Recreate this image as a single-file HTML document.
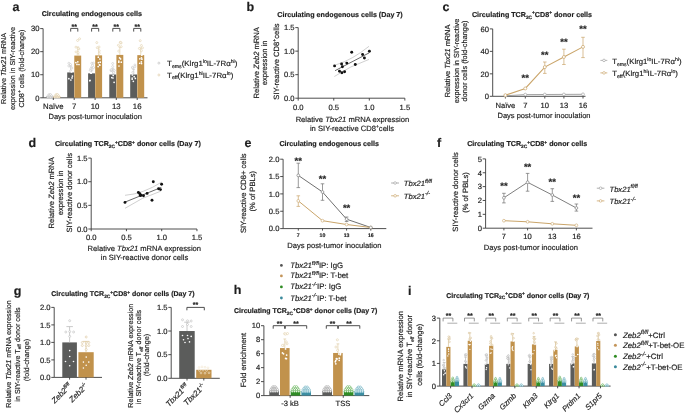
<!DOCTYPE html>
<html><head><meta charset="utf-8"><style>
html,body{margin:0;padding:0;background:#fff;}
svg{display:block;will-change:transform;}
text{font-family:"Liberation Sans", sans-serif;stroke:#1e1e1e;stroke-width:0.18px;text-rendering:geometricPrecision;}
</style></head><body>
<svg width="685" height="413" viewBox="0 0 685 413">
<rect width="685" height="413" fill="#fff"/>
<text x="12.40" y="11.00" font-size="12.5" text-anchor="start" font-weight="bold" fill="#1e1e1e">a</text>
<text x="91.80" y="16.40" font-size="7" text-anchor="middle" font-weight="bold" fill="#1e1e1e" textLength="100.3" lengthAdjust="spacingAndGlyphs">Circulating endogenous cells</text>
<line x1="43.10" y1="28.60" x2="43.10" y2="97.80" stroke="#3a3a3a" stroke-width="0.9"/>
<line x1="40.20" y1="97.80" x2="43.10" y2="97.80" stroke="#3a3a3a" stroke-width="0.9"/>
<text x="39.40" y="100.54" font-size="7.6" text-anchor="end" fill="#1e1e1e">0</text>
<line x1="40.20" y1="74.73" x2="43.10" y2="74.73" stroke="#3a3a3a" stroke-width="0.9"/>
<text x="39.40" y="77.47" font-size="7.6" text-anchor="end" fill="#1e1e1e">10</text>
<line x1="40.20" y1="51.67" x2="43.10" y2="51.67" stroke="#3a3a3a" stroke-width="0.9"/>
<text x="39.40" y="54.40" font-size="7.6" text-anchor="end" fill="#1e1e1e">20</text>
<line x1="40.20" y1="28.60" x2="43.10" y2="28.60" stroke="#3a3a3a" stroke-width="0.9"/>
<text x="39.40" y="31.34" font-size="7.6" text-anchor="end" fill="#1e1e1e">30</text>
<line x1="43.10" y1="97.80" x2="147.50" y2="97.80" stroke="#3a3a3a" stroke-width="0.9"/>
<line x1="53.30" y1="97.80" x2="53.30" y2="100.00" stroke="#3a3a3a" stroke-width="0.9"/>
<rect x="46.30" y="96.53" width="6.90" height="1.27" fill="#5b5c5b"/>
<rect x="53.40" y="96.53" width="6.90" height="1.27" fill="#c1924c"/>
<circle cx="47.52" cy="97.03" r="0.9" fill="#fff" stroke="#bdbdbd" stroke-width="0.5"/>
<circle cx="49.04" cy="97.03" r="0.9" fill="#fff" stroke="#bdbdbd" stroke-width="0.5"/>
<circle cx="50.56" cy="97.03" r="0.9" fill="#fff" stroke="#bdbdbd" stroke-width="0.5"/>
<circle cx="52.08" cy="97.03" r="0.9" fill="#fff" stroke="#bdbdbd" stroke-width="0.5"/>
<circle cx="48.07" cy="95.63" r="0.9" fill="#fff" stroke="#bdbdbd" stroke-width="0.5"/>
<circle cx="49.80" cy="95.63" r="0.9" fill="#fff" stroke="#bdbdbd" stroke-width="0.5"/>
<circle cx="51.52" cy="95.63" r="0.9" fill="#fff" stroke="#bdbdbd" stroke-width="0.5"/>
<circle cx="49.11" cy="94.43" r="0.9" fill="#fff" stroke="#bdbdbd" stroke-width="0.5"/>
<circle cx="50.49" cy="94.43" r="0.9" fill="#fff" stroke="#bdbdbd" stroke-width="0.5"/>
<circle cx="54.57" cy="97.03" r="0.9" fill="#fff" stroke="#d9c397" stroke-width="0.5"/>
<circle cx="56.09" cy="97.03" r="0.9" fill="#fff" stroke="#d9c397" stroke-width="0.5"/>
<circle cx="57.61" cy="97.03" r="0.9" fill="#fff" stroke="#d9c397" stroke-width="0.5"/>
<circle cx="59.13" cy="97.03" r="0.9" fill="#fff" stroke="#d9c397" stroke-width="0.5"/>
<circle cx="55.12" cy="95.63" r="0.9" fill="#fff" stroke="#d9c397" stroke-width="0.5"/>
<circle cx="56.85" cy="95.63" r="0.9" fill="#fff" stroke="#d9c397" stroke-width="0.5"/>
<circle cx="58.57" cy="95.63" r="0.9" fill="#fff" stroke="#d9c397" stroke-width="0.5"/>
<circle cx="56.16" cy="94.43" r="0.9" fill="#fff" stroke="#d9c397" stroke-width="0.5"/>
<circle cx="57.54" cy="94.43" r="0.9" fill="#fff" stroke="#d9c397" stroke-width="0.5"/>
<line x1="74.20" y1="97.80" x2="74.20" y2="100.00" stroke="#3a3a3a" stroke-width="0.9"/>
<rect x="67.20" y="72.43" width="6.90" height="25.37" fill="#5b5c5b"/>
<rect x="74.30" y="55.59" width="6.90" height="42.21" fill="#c1924c"/>
<line x1="70.70" y1="72.43" x2="70.70" y2="65.97" stroke="#c4c4c4" stroke-width="0.7"/>
<line x1="69.30" y1="65.97" x2="72.10" y2="65.97" stroke="#c4c4c4" stroke-width="0.7"/>
<circle cx="72.04" cy="77.93" r="0.85" fill="#ffffff"/>
<circle cx="69.75" cy="65.88" r="1.0" fill="#fff" stroke="#c4c4c4" stroke-width="0.55"/>
<circle cx="70.50" cy="71.01" r="1.0" fill="#fff" stroke="#c4c4c4" stroke-width="0.55"/>
<circle cx="71.82" cy="68.03" r="1.0" fill="#fff" stroke="#c4c4c4" stroke-width="0.55"/>
<circle cx="68.88" cy="78.70" r="0.85" fill="#ffffff"/>
<circle cx="70.44" cy="64.50" r="1.0" fill="#fff" stroke="#c4c4c4" stroke-width="0.55"/>
<circle cx="68.78" cy="65.91" r="1.0" fill="#fff" stroke="#c4c4c4" stroke-width="0.55"/>
<circle cx="71.56" cy="71.97" r="0.85" fill="#ffffff"/>
<circle cx="72.42" cy="76.12" r="0.85" fill="#ffffff"/>
<circle cx="68.89" cy="63.24" r="1.0" fill="#fff" stroke="#c4c4c4" stroke-width="0.55"/>
<circle cx="70.86" cy="80.01" r="0.85" fill="#ffffff"/>
<line x1="77.75" y1="55.59" x2="77.75" y2="47.05" stroke="#e0cda6" stroke-width="0.7"/>
<line x1="76.35" y1="47.05" x2="79.15" y2="47.05" stroke="#e0cda6" stroke-width="0.7"/>
<circle cx="77.98" cy="54.08" r="1.0" fill="#fff" stroke="#e0cda6" stroke-width="0.55"/>
<circle cx="77.62" cy="40.47" r="1.0" fill="#fff" stroke="#e0cda6" stroke-width="0.55"/>
<circle cx="78.09" cy="52.48" r="1.0" fill="#fff" stroke="#e0cda6" stroke-width="0.55"/>
<circle cx="77.80" cy="61.80" r="0.85" fill="#ffffff"/>
<circle cx="78.88" cy="48.96" r="1.0" fill="#fff" stroke="#e0cda6" stroke-width="0.55"/>
<circle cx="76.99" cy="64.41" r="0.85" fill="#ffffff"/>
<circle cx="78.95" cy="64.51" r="0.85" fill="#ffffff"/>
<circle cx="75.98" cy="47.13" r="1.0" fill="#fff" stroke="#e0cda6" stroke-width="0.55"/>
<circle cx="79.55" cy="38.80" r="1.0" fill="#fff" stroke="#e0cda6" stroke-width="0.55"/>
<circle cx="78.20" cy="48.27" r="1.0" fill="#fff" stroke="#e0cda6" stroke-width="0.55"/>
<circle cx="75.88" cy="62.58" r="0.85" fill="#ffffff"/>
<circle cx="76.05" cy="51.89" r="1.0" fill="#fff" stroke="#e0cda6" stroke-width="0.55"/>
<polyline points="70.70,31.60 70.70,28.40 77.80,28.40 77.80,31.60" fill="none" stroke="#3a3a3a" stroke-width="0.9"/>
<text x="74.20" y="28.70" font-size="7" text-anchor="middle" font-weight="bold" fill="#1e1e1e">**</text>
<line x1="95.10" y1="97.80" x2="95.10" y2="100.00" stroke="#3a3a3a" stroke-width="0.9"/>
<rect x="88.10" y="73.35" width="6.90" height="24.45" fill="#5b5c5b"/>
<rect x="95.20" y="55.36" width="6.90" height="42.44" fill="#c1924c"/>
<line x1="91.60" y1="73.35" x2="91.60" y2="67.12" stroke="#c4c4c4" stroke-width="0.7"/>
<line x1="90.20" y1="67.12" x2="93.00" y2="67.12" stroke="#c4c4c4" stroke-width="0.7"/>
<circle cx="93.33" cy="63.12" r="1.0" fill="#fff" stroke="#c4c4c4" stroke-width="0.55"/>
<circle cx="90.00" cy="80.34" r="0.85" fill="#ffffff"/>
<circle cx="92.51" cy="65.43" r="1.0" fill="#fff" stroke="#c4c4c4" stroke-width="0.55"/>
<circle cx="90.86" cy="68.60" r="1.0" fill="#fff" stroke="#c4c4c4" stroke-width="0.55"/>
<circle cx="92.01" cy="69.82" r="1.0" fill="#fff" stroke="#c4c4c4" stroke-width="0.55"/>
<circle cx="90.28" cy="70.30" r="1.0" fill="#fff" stroke="#c4c4c4" stroke-width="0.55"/>
<circle cx="91.19" cy="73.18" r="0.85" fill="#ffffff"/>
<circle cx="93.51" cy="67.58" r="1.0" fill="#fff" stroke="#c4c4c4" stroke-width="0.55"/>
<circle cx="91.77" cy="63.25" r="1.0" fill="#fff" stroke="#c4c4c4" stroke-width="0.55"/>
<circle cx="90.70" cy="72.91" r="0.85" fill="#ffffff"/>
<circle cx="89.77" cy="80.73" r="0.85" fill="#ffffff"/>
<line x1="98.65" y1="55.36" x2="98.65" y2="47.51" stroke="#e0cda6" stroke-width="0.7"/>
<line x1="97.25" y1="47.51" x2="100.05" y2="47.51" stroke="#e0cda6" stroke-width="0.7"/>
<circle cx="99.26" cy="53.21" r="1.0" fill="#fff" stroke="#e0cda6" stroke-width="0.55"/>
<circle cx="97.27" cy="47.68" r="1.0" fill="#fff" stroke="#e0cda6" stroke-width="0.55"/>
<circle cx="98.17" cy="66.58" r="0.85" fill="#ffffff"/>
<circle cx="99.85" cy="58.99" r="0.85" fill="#ffffff"/>
<circle cx="99.04" cy="46.98" r="1.0" fill="#fff" stroke="#e0cda6" stroke-width="0.55"/>
<circle cx="99.27" cy="50.80" r="1.0" fill="#fff" stroke="#e0cda6" stroke-width="0.55"/>
<circle cx="98.42" cy="62.70" r="0.85" fill="#ffffff"/>
<circle cx="100.22" cy="62.21" r="0.85" fill="#ffffff"/>
<circle cx="99.88" cy="65.19" r="0.85" fill="#ffffff"/>
<circle cx="99.37" cy="64.74" r="0.85" fill="#ffffff"/>
<circle cx="98.28" cy="57.17" r="0.85" fill="#ffffff"/>
<circle cx="96.79" cy="42.60" r="1.0" fill="#fff" stroke="#e0cda6" stroke-width="0.55"/>
<polyline points="91.60,31.60 91.60,28.40 98.70,28.40 98.70,31.60" fill="none" stroke="#3a3a3a" stroke-width="0.9"/>
<text x="95.10" y="28.70" font-size="7" text-anchor="middle" font-weight="bold" fill="#1e1e1e">**</text>
<line x1="116.30" y1="97.80" x2="116.30" y2="100.00" stroke="#3a3a3a" stroke-width="0.9"/>
<rect x="109.30" y="74.50" width="6.90" height="23.30" fill="#5b5c5b"/>
<rect x="116.40" y="54.90" width="6.90" height="42.90" fill="#c1924c"/>
<line x1="112.80" y1="74.50" x2="112.80" y2="68.74" stroke="#c4c4c4" stroke-width="0.7"/>
<line x1="111.40" y1="68.74" x2="114.20" y2="68.74" stroke="#c4c4c4" stroke-width="0.7"/>
<circle cx="112.97" cy="78.02" r="0.85" fill="#ffffff"/>
<circle cx="113.20" cy="75.49" r="0.85" fill="#ffffff"/>
<circle cx="111.12" cy="70.60" r="1.0" fill="#fff" stroke="#c4c4c4" stroke-width="0.55"/>
<circle cx="114.10" cy="82.32" r="0.85" fill="#ffffff"/>
<circle cx="111.77" cy="77.61" r="0.85" fill="#ffffff"/>
<circle cx="112.69" cy="63.51" r="1.0" fill="#fff" stroke="#c4c4c4" stroke-width="0.55"/>
<circle cx="112.71" cy="66.56" r="1.0" fill="#fff" stroke="#c4c4c4" stroke-width="0.55"/>
<circle cx="111.45" cy="70.34" r="1.0" fill="#fff" stroke="#c4c4c4" stroke-width="0.55"/>
<circle cx="114.22" cy="70.42" r="1.0" fill="#fff" stroke="#c4c4c4" stroke-width="0.55"/>
<circle cx="113.73" cy="72.56" r="1.0" fill="#fff" stroke="#c4c4c4" stroke-width="0.55"/>
<circle cx="111.12" cy="69.72" r="1.0" fill="#fff" stroke="#c4c4c4" stroke-width="0.55"/>
<line x1="119.85" y1="54.90" x2="119.85" y2="47.05" stroke="#e0cda6" stroke-width="0.7"/>
<line x1="118.45" y1="47.05" x2="121.25" y2="47.05" stroke="#e0cda6" stroke-width="0.7"/>
<circle cx="120.57" cy="58.96" r="0.85" fill="#ffffff"/>
<circle cx="121.20" cy="46.70" r="1.0" fill="#fff" stroke="#e0cda6" stroke-width="0.55"/>
<circle cx="118.81" cy="61.07" r="0.85" fill="#ffffff"/>
<circle cx="118.79" cy="62.19" r="0.85" fill="#ffffff"/>
<circle cx="118.42" cy="45.26" r="1.0" fill="#fff" stroke="#e0cda6" stroke-width="0.55"/>
<circle cx="118.74" cy="51.11" r="1.0" fill="#fff" stroke="#e0cda6" stroke-width="0.55"/>
<circle cx="119.59" cy="57.93" r="0.85" fill="#ffffff"/>
<circle cx="120.27" cy="42.28" r="1.0" fill="#fff" stroke="#e0cda6" stroke-width="0.55"/>
<circle cx="118.98" cy="66.01" r="0.85" fill="#ffffff"/>
<circle cx="121.28" cy="62.20" r="0.85" fill="#ffffff"/>
<circle cx="121.03" cy="43.08" r="1.0" fill="#fff" stroke="#e0cda6" stroke-width="0.55"/>
<circle cx="120.80" cy="42.60" r="1.0" fill="#fff" stroke="#e0cda6" stroke-width="0.55"/>
<polyline points="112.80,31.60 112.80,28.40 119.90,28.40 119.90,31.60" fill="none" stroke="#3a3a3a" stroke-width="0.9"/>
<text x="116.30" y="28.70" font-size="7" text-anchor="middle" font-weight="bold" fill="#1e1e1e">**</text>
<line x1="137.20" y1="97.80" x2="137.20" y2="100.00" stroke="#3a3a3a" stroke-width="0.9"/>
<rect x="130.20" y="74.50" width="6.90" height="23.30" fill="#5b5c5b"/>
<rect x="137.30" y="55.13" width="6.90" height="42.67" fill="#c1924c"/>
<line x1="133.70" y1="74.50" x2="133.70" y2="69.20" stroke="#c4c4c4" stroke-width="0.7"/>
<line x1="132.30" y1="69.20" x2="135.10" y2="69.20" stroke="#c4c4c4" stroke-width="0.7"/>
<circle cx="132.17" cy="78.06" r="0.85" fill="#ffffff"/>
<circle cx="132.37" cy="74.99" r="0.85" fill="#ffffff"/>
<circle cx="133.32" cy="81.30" r="0.85" fill="#ffffff"/>
<circle cx="134.86" cy="65.00" r="1.0" fill="#fff" stroke="#c4c4c4" stroke-width="0.55"/>
<circle cx="132.63" cy="67.93" r="1.0" fill="#fff" stroke="#c4c4c4" stroke-width="0.55"/>
<circle cx="132.84" cy="72.30" r="1.0" fill="#fff" stroke="#c4c4c4" stroke-width="0.55"/>
<circle cx="132.18" cy="79.27" r="0.85" fill="#ffffff"/>
<circle cx="135.35" cy="78.47" r="0.85" fill="#ffffff"/>
<circle cx="134.88" cy="66.71" r="1.0" fill="#fff" stroke="#c4c4c4" stroke-width="0.55"/>
<circle cx="132.52" cy="67.25" r="1.0" fill="#fff" stroke="#c4c4c4" stroke-width="0.55"/>
<circle cx="134.19" cy="76.64" r="0.85" fill="#ffffff"/>
<line x1="140.75" y1="55.13" x2="140.75" y2="47.98" stroke="#e0cda6" stroke-width="0.7"/>
<line x1="139.35" y1="47.98" x2="142.15" y2="47.98" stroke="#e0cda6" stroke-width="0.7"/>
<circle cx="141.53" cy="63.58" r="0.85" fill="#ffffff"/>
<circle cx="142.45" cy="47.86" r="1.0" fill="#fff" stroke="#e0cda6" stroke-width="0.55"/>
<circle cx="139.81" cy="58.84" r="0.85" fill="#ffffff"/>
<circle cx="141.36" cy="45.49" r="1.0" fill="#fff" stroke="#e0cda6" stroke-width="0.55"/>
<circle cx="141.46" cy="57.92" r="0.85" fill="#ffffff"/>
<circle cx="141.82" cy="55.22" r="0.85" fill="#ffffff"/>
<circle cx="139.68" cy="63.25" r="0.85" fill="#ffffff"/>
<circle cx="140.20" cy="40.67" r="1.0" fill="#fff" stroke="#e0cda6" stroke-width="0.55"/>
<circle cx="141.93" cy="59.15" r="0.85" fill="#ffffff"/>
<circle cx="139.40" cy="48.45" r="1.0" fill="#fff" stroke="#e0cda6" stroke-width="0.55"/>
<circle cx="141.38" cy="50.76" r="1.0" fill="#fff" stroke="#e0cda6" stroke-width="0.55"/>
<circle cx="141.34" cy="61.90" r="0.85" fill="#ffffff"/>
<polyline points="133.70,31.60 133.70,28.40 140.80,28.40 140.80,31.60" fill="none" stroke="#3a3a3a" stroke-width="0.9"/>
<text x="137.20" y="28.70" font-size="7" text-anchor="middle" font-weight="bold" fill="#1e1e1e">**</text>
<text x="53.30" y="108.60" font-size="7.8" text-anchor="middle" fill="#1e1e1e">Naïve</text>
<text x="74.20" y="108.60" font-size="7.8" text-anchor="middle" fill="#1e1e1e">7</text>
<text x="95.10" y="108.60" font-size="7.8" text-anchor="middle" fill="#1e1e1e">10</text>
<text x="116.30" y="108.60" font-size="7.8" text-anchor="middle" fill="#1e1e1e">13</text>
<text x="137.20" y="108.60" font-size="7.8" text-anchor="middle" fill="#1e1e1e">16</text>
<text x="95.20" y="118.80" font-size="7.5" text-anchor="middle" fill="#1e1e1e" textLength="93.5" lengthAdjust="spacingAndGlyphs">Days post-tumor inoculation</text>
<text x="5.80" y="68.50" font-size="7.2" text-anchor="middle" fill="#1e1e1e" transform="rotate(-90 5.8 68.5)">Relative <tspan font-style="italic">Tbx21</tspan> mRNA</text>
<text x="15.10" y="68.50" font-size="7.2" text-anchor="middle" fill="#1e1e1e" transform="rotate(-90 15.1 68.5)">expression in SIY-reactive</text>
<text x="23.70" y="68.50" font-size="7.2" text-anchor="middle" fill="#1e1e1e" transform="rotate(-90 23.7 68.5)">CD8<tspan font-size="5" dy="-2.5">+</tspan><tspan dy="2.5"> cells (fold-change)</tspan></text>
<circle cx="158.90" cy="63.10" r="1.0" fill="none" stroke="#b8b8b8" stroke-width="0.6"/>
<circle cx="158.90" cy="75.00" r="1.0" fill="none" stroke="#dcc69c" stroke-width="0.6"/>
<text x="167.10" y="66.40" font-size="7.6" text-anchor="start" fill="#1e1e1e" textLength="70.3" lengthAdjust="spacingAndGlyphs">T<tspan font-size="5" dy="1.8">ems</tspan><tspan dy="-1.8">(Klrg1</tspan><tspan font-size="5" dy="-3">lo</tspan><tspan dy="3">IL-7Rα</tspan><tspan font-size="5" dy="-3">hi</tspan><tspan dy="3">)</tspan></text>
<text x="167.10" y="77.60" font-size="7.6" text-anchor="start" fill="#1e1e1e" textLength="66.3" lengthAdjust="spacingAndGlyphs">T<tspan font-size="5" dy="1.8">eff</tspan><tspan dy="-1.8">(Klrg1</tspan><tspan font-size="5" dy="-3">hi</tspan><tspan dy="3">IL-7Rα</tspan><tspan font-size="5" dy="-3">lo</tspan><tspan dy="3">)</tspan></text>
<text x="246.40" y="10.90" font-size="12.5" text-anchor="start" font-weight="bold" fill="#1e1e1e">b</text>
<text x="340.00" y="16.90" font-size="7.15" text-anchor="middle" font-weight="bold" fill="#1e1e1e">Circulating endogenous cells (Day 7)</text>
<line x1="298.20" y1="27.60" x2="298.20" y2="98.20" stroke="#3a3a3a" stroke-width="0.9"/>
<line x1="295.30" y1="98.20" x2="298.20" y2="98.20" stroke="#3a3a3a" stroke-width="0.9"/>
<text x="294.50" y="100.94" font-size="7.6" text-anchor="end" fill="#1e1e1e">0.0</text>
<line x1="295.30" y1="74.67" x2="298.20" y2="74.67" stroke="#3a3a3a" stroke-width="0.9"/>
<text x="294.50" y="77.40" font-size="7.6" text-anchor="end" fill="#1e1e1e">0.5</text>
<line x1="295.30" y1="51.13" x2="298.20" y2="51.13" stroke="#3a3a3a" stroke-width="0.9"/>
<text x="294.50" y="53.87" font-size="7.6" text-anchor="end" fill="#1e1e1e">1.0</text>
<line x1="295.30" y1="27.60" x2="298.20" y2="27.60" stroke="#3a3a3a" stroke-width="0.9"/>
<text x="294.50" y="30.34" font-size="7.6" text-anchor="end" fill="#1e1e1e">1.5</text>
<line x1="298.20" y1="98.20" x2="404.85" y2="98.20" stroke="#3a3a3a" stroke-width="0.9"/>
<line x1="298.20" y1="98.20" x2="298.20" y2="100.60" stroke="#3a3a3a" stroke-width="0.9"/>
<text x="298.20" y="110.00" font-size="7.6" text-anchor="middle" fill="#1e1e1e">0.0</text>
<line x1="333.75" y1="98.20" x2="333.75" y2="100.60" stroke="#3a3a3a" stroke-width="0.9"/>
<text x="333.75" y="110.00" font-size="7.6" text-anchor="middle" fill="#1e1e1e">0.5</text>
<line x1="369.30" y1="98.20" x2="369.30" y2="100.60" stroke="#3a3a3a" stroke-width="0.9"/>
<text x="369.30" y="110.00" font-size="7.6" text-anchor="middle" fill="#1e1e1e">1.0</text>
<line x1="404.85" y1="98.20" x2="404.85" y2="100.60" stroke="#3a3a3a" stroke-width="0.9"/>
<text x="404.85" y="110.00" font-size="7.6" text-anchor="middle" fill="#1e1e1e">1.5</text>
<text x="352.40" y="121.70" font-size="7.6" text-anchor="middle" fill="#1e1e1e">Relative <tspan font-style="italic">Tbx21</tspan> mRNA expression</text>
<text x="352.00" y="131.00" font-size="7.6" text-anchor="middle" fill="#1e1e1e">in SIY-reactive CD8<tspan font-size="5" dy="-2.8">+</tspan><tspan dy="2.8">cells</tspan></text>
<text x="259.40" y="62.80" font-size="7.6" text-anchor="middle" fill="#1e1e1e" transform="rotate(-90 259.4 62.8)">Relative <tspan font-style="italic">Zeb2</tspan> mRNA</text>
<text x="267.50" y="62.80" font-size="7.6" text-anchor="middle" fill="#1e1e1e" transform="rotate(-90 267.5 62.8)">expression in</text>
<text x="278.60" y="61.60" font-size="7.6" text-anchor="middle" fill="#1e1e1e" transform="rotate(-90 278.6 61.6)">SIY-reactive CD8<tspan font-size="5" dy="-2.8">+</tspan><tspan dy="2.8">cells</tspan></text>
<path d="M334.3,76.5 Q350,66 369,59.4" fill="none" stroke="#b0b0b0" stroke-width="0.6"/>
<path d="M336,64.8 Q352,60 369,46.3" fill="none" stroke="#b0b0b0" stroke-width="0.6"/>
<line x1="335.00" y1="70.70" x2="369.10" y2="52.90" stroke="#2a2a2a" stroke-width="0.7"/>
<circle cx="334.60" cy="65.90" r="1.45" fill="#111"/>
<circle cx="341.60" cy="64.00" r="1.45" fill="#111"/>
<circle cx="342.40" cy="66.70" r="1.45" fill="#111"/>
<circle cx="346.80" cy="63.10" r="1.45" fill="#111"/>
<circle cx="351.70" cy="52.30" r="1.45" fill="#111"/>
<circle cx="355.30" cy="64.50" r="1.45" fill="#111"/>
<circle cx="362.60" cy="54.50" r="1.45" fill="#111"/>
<circle cx="364.40" cy="58.00" r="1.45" fill="#111"/>
<circle cx="369.40" cy="51.20" r="1.45" fill="#111"/>
<circle cx="339.50" cy="71.30" r="1.45" fill="#111"/>
<circle cx="341.90" cy="72.70" r="1.45" fill="#111"/>
<circle cx="344.60" cy="71.80" r="1.45" fill="#111"/>
<text x="442.60" y="10.80" font-size="12.5" text-anchor="start" font-weight="bold" fill="#1e1e1e">c</text>
<text x="532.00" y="16.90" font-size="7.15" text-anchor="middle" font-weight="bold" fill="#1e1e1e">Circulating TCR<tspan font-size="4.8" dy="1.8">2C</tspan><tspan font-size="4.8" dy="-4.3">+</tspan><tspan dy="2.5">CD8</tspan><tspan font-size="4.8" dy="-2.5">+</tspan><tspan dy="2.5"> donor cells</tspan></text>
<line x1="492.70" y1="28.90" x2="492.70" y2="96.30" stroke="#3a3a3a" stroke-width="0.9"/>
<line x1="489.80" y1="96.30" x2="492.70" y2="96.30" stroke="#3a3a3a" stroke-width="0.9"/>
<text x="489.00" y="99.04" font-size="7.6" text-anchor="end" fill="#1e1e1e">0</text>
<line x1="489.80" y1="73.83" x2="492.70" y2="73.83" stroke="#3a3a3a" stroke-width="0.9"/>
<text x="489.00" y="76.57" font-size="7.6" text-anchor="end" fill="#1e1e1e">20</text>
<line x1="489.80" y1="51.37" x2="492.70" y2="51.37" stroke="#3a3a3a" stroke-width="0.9"/>
<text x="489.00" y="54.10" font-size="7.6" text-anchor="end" fill="#1e1e1e">40</text>
<line x1="489.80" y1="28.90" x2="492.70" y2="28.90" stroke="#3a3a3a" stroke-width="0.9"/>
<text x="489.00" y="31.64" font-size="7.6" text-anchor="end" fill="#1e1e1e">60</text>
<line x1="492.70" y1="96.30" x2="585.50" y2="96.30" stroke="#3a3a3a" stroke-width="0.9"/>
<line x1="505.40" y1="96.30" x2="505.40" y2="98.50" stroke="#3a3a3a" stroke-width="0.9"/>
<text x="505.40" y="107.70" font-size="7.6" text-anchor="middle" fill="#1e1e1e">Naïve</text>
<line x1="525.30" y1="96.30" x2="525.30" y2="98.50" stroke="#3a3a3a" stroke-width="0.9"/>
<text x="525.30" y="107.70" font-size="7.6" text-anchor="middle" fill="#1e1e1e">7</text>
<line x1="544.80" y1="96.30" x2="544.80" y2="98.50" stroke="#3a3a3a" stroke-width="0.9"/>
<text x="544.80" y="107.70" font-size="7.6" text-anchor="middle" fill="#1e1e1e">10</text>
<line x1="563.90" y1="96.30" x2="563.90" y2="98.50" stroke="#3a3a3a" stroke-width="0.9"/>
<text x="563.90" y="107.70" font-size="7.6" text-anchor="middle" fill="#1e1e1e">13</text>
<line x1="583.00" y1="96.30" x2="583.00" y2="98.50" stroke="#3a3a3a" stroke-width="0.9"/>
<text x="583.00" y="107.70" font-size="7.6" text-anchor="middle" fill="#1e1e1e">16</text>
<text x="544.00" y="118.30" font-size="7.5" text-anchor="middle" fill="#1e1e1e">Days post-tumor inoculation</text>
<text x="450.30" y="61.00" font-size="7.35" text-anchor="middle" fill="#1e1e1e" transform="rotate(-90 450.3 61.0)">Relative <tspan font-style="italic">Tbx21</tspan> mRNA</text>
<text x="458.80" y="61.00" font-size="7.35" text-anchor="middle" fill="#1e1e1e" transform="rotate(-90 458.8 61.0)">expression in SIY-reactive</text>
<text x="467.40" y="61.00" font-size="7.35" text-anchor="middle" fill="#1e1e1e" transform="rotate(-90 467.4 61.0)">donor cells (fold-change)</text>
<polyline points="505.40,95.80 525.30,94.60 544.80,94.50 563.90,94.40 583.00,94.30" fill="none" stroke="#9a9a9a" stroke-width="0.9"/>
<polyline points="505.40,95.18 525.30,88.44 544.80,67.09 563.90,56.98 583.00,46.87" fill="none" stroke="#caa56a" stroke-width="1.1"/>
<line x1="544.80" y1="62.00" x2="544.80" y2="73.40" stroke="#caa56a" stroke-width="0.7"/>
<line x1="543.00" y1="62.00" x2="546.60" y2="62.00" stroke="#caa56a" stroke-width="0.7"/>
<line x1="543.00" y1="73.40" x2="546.60" y2="73.40" stroke="#caa56a" stroke-width="0.7"/>
<line x1="563.90" y1="49.20" x2="563.90" y2="64.50" stroke="#caa56a" stroke-width="0.7"/>
<line x1="562.10" y1="49.20" x2="565.70" y2="49.20" stroke="#caa56a" stroke-width="0.7"/>
<line x1="562.10" y1="64.50" x2="565.70" y2="64.50" stroke="#caa56a" stroke-width="0.7"/>
<line x1="583.00" y1="37.30" x2="583.00" y2="57.60" stroke="#caa56a" stroke-width="0.7"/>
<line x1="581.20" y1="37.30" x2="584.80" y2="37.30" stroke="#caa56a" stroke-width="0.7"/>
<line x1="581.20" y1="57.60" x2="584.80" y2="57.60" stroke="#caa56a" stroke-width="0.7"/>
<circle cx="505.40" cy="95.80" r="1.4" fill="#fff" stroke="#9a9a9a" stroke-width="0.6"/>
<circle cx="505.40" cy="95.18" r="1.5" fill="#fff" stroke="#caa56a" stroke-width="0.7"/>
<circle cx="525.30" cy="94.60" r="1.4" fill="#fff" stroke="#9a9a9a" stroke-width="0.6"/>
<circle cx="525.30" cy="88.44" r="1.5" fill="#fff" stroke="#caa56a" stroke-width="0.7"/>
<circle cx="544.80" cy="94.50" r="1.4" fill="#fff" stroke="#9a9a9a" stroke-width="0.6"/>
<circle cx="544.80" cy="67.09" r="1.5" fill="#fff" stroke="#caa56a" stroke-width="0.7"/>
<circle cx="563.90" cy="94.40" r="1.4" fill="#fff" stroke="#9a9a9a" stroke-width="0.6"/>
<circle cx="563.90" cy="56.98" r="1.5" fill="#fff" stroke="#caa56a" stroke-width="0.7"/>
<circle cx="583.00" cy="94.30" r="1.4" fill="#fff" stroke="#9a9a9a" stroke-width="0.6"/>
<circle cx="583.00" cy="46.87" r="1.5" fill="#fff" stroke="#caa56a" stroke-width="0.7"/>
<text x="525.30" y="81.15" font-size="9.5" text-anchor="middle" font-weight="bold" fill="#1e1e1e">**</text>
<text x="544.80" y="58.35" font-size="9.5" text-anchor="middle" font-weight="bold" fill="#1e1e1e">**</text>
<text x="563.90" y="45.05" font-size="9.5" text-anchor="middle" font-weight="bold" fill="#1e1e1e">**</text>
<text x="583.00" y="32.35" font-size="9.5" text-anchor="middle" font-weight="bold" fill="#1e1e1e">**</text>
<line x1="600.40" y1="60.40" x2="607.30" y2="60.40" stroke="#9a9a9a" stroke-width="0.7"/>
<circle cx="604.00" cy="60.40" r="1.3" fill="#fff" stroke="#9a9a9a" stroke-width="0.6"/>
<line x1="600.40" y1="72.90" x2="607.30" y2="72.90" stroke="#caa56a" stroke-width="0.8"/>
<circle cx="604.00" cy="72.90" r="1.3" fill="#fff" stroke="#caa56a" stroke-width="0.6"/>
<text x="612.20" y="64.00" font-size="7.6" text-anchor="start" fill="#1e1e1e" textLength="69.3" lengthAdjust="spacingAndGlyphs">T<tspan font-size="5" dy="1.8">ems</tspan><tspan dy="-1.8">(Klrg1</tspan><tspan font-size="5" dy="-3">lo</tspan><tspan dy="3">IL-7Rα</tspan><tspan font-size="5" dy="-3">hi</tspan><tspan dy="3">)</tspan></text>
<text x="612.20" y="76.40" font-size="7.6" text-anchor="start" fill="#1e1e1e" textLength="65.8" lengthAdjust="spacingAndGlyphs">T<tspan font-size="5" dy="1.8">eff</tspan><tspan dy="-1.8">(Klrg1</tspan><tspan font-size="5" dy="-3">hi</tspan><tspan dy="3">IL-7Rα</tspan><tspan font-size="5" dy="-3">lo</tspan><tspan dy="3">)</tspan></text>
<text x="28.40" y="146.70" font-size="12.5" text-anchor="start" font-weight="bold" fill="#1e1e1e">d</text>
<text x="54.90" y="146.00" font-size="7.15" text-anchor="start" font-weight="bold" fill="#1e1e1e">Circulating TCR<tspan font-size="4.8" dy="1.8">2C</tspan><tspan font-size="4.8" dy="-4.3">+</tspan><tspan dy="2.5">CD8</tspan><tspan font-size="4.8" dy="-2.5">+</tspan><tspan dy="2.5"> donor cells (Day 7)</tspan></text>
<line x1="91.20" y1="158.10" x2="91.20" y2="229.00" stroke="#3a3a3a" stroke-width="0.9"/>
<line x1="88.30" y1="229.00" x2="91.20" y2="229.00" stroke="#3a3a3a" stroke-width="0.9"/>
<text x="87.50" y="231.74" font-size="7.6" text-anchor="end" fill="#1e1e1e">0.0</text>
<line x1="88.30" y1="205.37" x2="91.20" y2="205.37" stroke="#3a3a3a" stroke-width="0.9"/>
<text x="87.50" y="208.10" font-size="7.6" text-anchor="end" fill="#1e1e1e">0.5</text>
<line x1="88.30" y1="181.73" x2="91.20" y2="181.73" stroke="#3a3a3a" stroke-width="0.9"/>
<text x="87.50" y="184.47" font-size="7.6" text-anchor="end" fill="#1e1e1e">1.0</text>
<line x1="88.30" y1="158.10" x2="91.20" y2="158.10" stroke="#3a3a3a" stroke-width="0.9"/>
<text x="87.50" y="160.84" font-size="7.6" text-anchor="end" fill="#1e1e1e">1.5</text>
<line x1="91.20" y1="229.00" x2="196.95" y2="229.00" stroke="#3a3a3a" stroke-width="0.9"/>
<line x1="91.20" y1="229.00" x2="91.20" y2="231.20" stroke="#3a3a3a" stroke-width="0.9"/>
<text x="91.20" y="240.10" font-size="7.6" text-anchor="middle" fill="#1e1e1e">0.0</text>
<line x1="126.45" y1="229.00" x2="126.45" y2="231.20" stroke="#3a3a3a" stroke-width="0.9"/>
<text x="126.45" y="240.10" font-size="7.6" text-anchor="middle" fill="#1e1e1e">0.5</text>
<line x1="161.70" y1="229.00" x2="161.70" y2="231.20" stroke="#3a3a3a" stroke-width="0.9"/>
<text x="161.70" y="240.10" font-size="7.6" text-anchor="middle" fill="#1e1e1e">1.0</text>
<line x1="196.95" y1="229.00" x2="196.95" y2="231.20" stroke="#3a3a3a" stroke-width="0.9"/>
<text x="196.95" y="240.10" font-size="7.6" text-anchor="middle" fill="#1e1e1e">1.5</text>
<text x="144.30" y="251.00" font-size="7.6" text-anchor="middle" fill="#1e1e1e">Relative <tspan font-style="italic">Tbx21</tspan> mRNA expression</text>
<text x="144.50" y="259.60" font-size="7.6" text-anchor="middle" fill="#1e1e1e">in SIY-reactive donor cells</text>
<text x="53.60" y="192.80" font-size="7.6" text-anchor="middle" fill="#1e1e1e" transform="rotate(-90 53.6 192.8)">Relative <tspan font-style="italic">Zeb2</tspan> mRNA</text>
<text x="62.70" y="192.80" font-size="7.6" text-anchor="middle" fill="#1e1e1e" transform="rotate(-90 62.7 192.8)">expression in</text>
<text x="71.80" y="192.80" font-size="7.6" text-anchor="middle" fill="#1e1e1e" transform="rotate(-90 71.8 192.8)">SIY-reactive donor cells</text>
<path d="M125,208.3 Q142,197 160.8,191.2" fill="none" stroke="#b0b0b0" stroke-width="0.6"/>
<path d="M125,195.3 Q143,194 161.8,182" fill="none" stroke="#b0b0b0" stroke-width="0.6"/>
<line x1="125.00" y1="202.10" x2="161.30" y2="187.40" stroke="#2a2a2a" stroke-width="0.7"/>
<circle cx="125.00" cy="202.40" r="1.45" fill="#111"/>
<circle cx="138.40" cy="192.50" r="1.45" fill="#111"/>
<circle cx="139.80" cy="193.70" r="1.45" fill="#111"/>
<circle cx="141.10" cy="195.30" r="1.45" fill="#111"/>
<circle cx="143.50" cy="195.80" r="1.45" fill="#111"/>
<circle cx="147.10" cy="193.40" r="1.45" fill="#111"/>
<circle cx="153.30" cy="181.70" r="1.45" fill="#111"/>
<circle cx="152.00" cy="200.20" r="1.45" fill="#111"/>
<circle cx="158.60" cy="188.70" r="1.45" fill="#111"/>
<circle cx="160.50" cy="189.60" r="1.45" fill="#111"/>
<circle cx="161.60" cy="184.20" r="1.45" fill="#111"/>
<circle cx="140.30" cy="195.60" r="1.45" fill="#111"/>
<text x="244.60" y="147.30" font-size="12.5" text-anchor="start" font-weight="bold" fill="#1e1e1e">e</text>
<text x="329.20" y="146.10" font-size="7.15" text-anchor="middle" font-weight="bold" fill="#1e1e1e">Circulating endogenous cells</text>
<line x1="283.10" y1="159.20" x2="283.10" y2="228.60" stroke="#3a3a3a" stroke-width="0.9"/>
<line x1="280.20" y1="228.60" x2="283.10" y2="228.60" stroke="#3a3a3a" stroke-width="0.9"/>
<text x="279.40" y="231.34" font-size="7.6" text-anchor="end" fill="#1e1e1e">0.0</text>
<line x1="280.20" y1="211.25" x2="283.10" y2="211.25" stroke="#3a3a3a" stroke-width="0.9"/>
<text x="279.40" y="213.99" font-size="7.6" text-anchor="end" fill="#1e1e1e">0.5</text>
<line x1="280.20" y1="193.90" x2="283.10" y2="193.90" stroke="#3a3a3a" stroke-width="0.9"/>
<text x="279.40" y="196.64" font-size="7.6" text-anchor="end" fill="#1e1e1e">1.0</text>
<line x1="280.20" y1="176.55" x2="283.10" y2="176.55" stroke="#3a3a3a" stroke-width="0.9"/>
<text x="279.40" y="179.29" font-size="7.6" text-anchor="end" fill="#1e1e1e">1.5</text>
<line x1="280.20" y1="159.20" x2="283.10" y2="159.20" stroke="#3a3a3a" stroke-width="0.9"/>
<text x="279.40" y="161.94" font-size="7.6" text-anchor="end" fill="#1e1e1e">2.0</text>
<line x1="283.10" y1="228.60" x2="386.30" y2="228.60" stroke="#3a3a3a" stroke-width="0.9"/>
<line x1="298.30" y1="228.60" x2="298.30" y2="230.60" stroke="#3a3a3a" stroke-width="0.9"/>
<text x="298.30" y="236.50" font-size="5.2" text-anchor="middle" font-weight="bold" fill="#1e1e1e">7</text>
<line x1="322.50" y1="228.60" x2="322.50" y2="230.60" stroke="#3a3a3a" stroke-width="0.9"/>
<text x="322.50" y="236.50" font-size="5.2" text-anchor="middle" font-weight="bold" fill="#1e1e1e">10</text>
<line x1="346.60" y1="228.60" x2="346.60" y2="230.60" stroke="#3a3a3a" stroke-width="0.9"/>
<text x="346.60" y="236.50" font-size="5.2" text-anchor="middle" font-weight="bold" fill="#1e1e1e">13</text>
<line x1="370.80" y1="228.60" x2="370.80" y2="230.60" stroke="#3a3a3a" stroke-width="0.9"/>
<text x="370.80" y="236.50" font-size="5.2" text-anchor="middle" font-weight="bold" fill="#1e1e1e">16</text>
<text x="334.40" y="247.90" font-size="7.6" text-anchor="middle" fill="#1e1e1e">Days post-tumor inoculation</text>
<text x="245.60" y="193.20" font-size="7.6" text-anchor="middle" fill="#1e1e1e" transform="rotate(-90 245.6 193.2)">SIY-reactive CD8+ cells</text>
<text x="254.60" y="191.20" font-size="7.6" text-anchor="middle" fill="#1e1e1e" transform="rotate(-90 254.6 191.2)">(% of PBLs)</text>
<polyline points="298.30,175.40 322.50,192.00 346.60,219.20 370.80,227.50" fill="none" stroke="#707070" stroke-width="1.0"/>
<polyline points="298.30,200.90 322.50,220.70 346.60,224.50 370.80,227.50" fill="none" stroke="#caa56a" stroke-width="1.0"/>
<line x1="298.30" y1="163.20" x2="298.30" y2="187.60" stroke="#707070" stroke-width="0.7"/>
<line x1="296.50" y1="163.20" x2="300.10" y2="163.20" stroke="#707070" stroke-width="0.7"/>
<line x1="296.50" y1="187.60" x2="300.10" y2="187.60" stroke="#707070" stroke-width="0.7"/>
<line x1="322.50" y1="183.80" x2="322.50" y2="200.30" stroke="#707070" stroke-width="0.7"/>
<line x1="320.70" y1="183.80" x2="324.30" y2="183.80" stroke="#707070" stroke-width="0.7"/>
<line x1="320.70" y1="200.30" x2="324.30" y2="200.30" stroke="#707070" stroke-width="0.7"/>
<line x1="346.60" y1="217.00" x2="346.60" y2="221.50" stroke="#707070" stroke-width="0.7"/>
<line x1="344.80" y1="217.00" x2="348.40" y2="217.00" stroke="#707070" stroke-width="0.7"/>
<line x1="344.80" y1="221.50" x2="348.40" y2="221.50" stroke="#707070" stroke-width="0.7"/>
<line x1="298.30" y1="195.80" x2="298.30" y2="206.40" stroke="#caa56a" stroke-width="0.7"/>
<line x1="296.50" y1="195.80" x2="300.10" y2="195.80" stroke="#caa56a" stroke-width="0.7"/>
<line x1="296.50" y1="206.40" x2="300.10" y2="206.40" stroke="#caa56a" stroke-width="0.7"/>
<circle cx="298.30" cy="200.90" r="1.4" fill="#fff" stroke="#caa56a" stroke-width="0.6"/>
<circle cx="298.30" cy="175.40" r="1.4" fill="#fff" stroke="#707070" stroke-width="0.6"/>
<circle cx="322.50" cy="220.70" r="1.4" fill="#fff" stroke="#caa56a" stroke-width="0.6"/>
<circle cx="322.50" cy="192.00" r="1.4" fill="#fff" stroke="#707070" stroke-width="0.6"/>
<circle cx="346.60" cy="224.50" r="1.4" fill="#fff" stroke="#caa56a" stroke-width="0.6"/>
<circle cx="346.60" cy="219.20" r="1.4" fill="#fff" stroke="#707070" stroke-width="0.6"/>
<circle cx="370.80" cy="227.50" r="1.4" fill="#fff" stroke="#caa56a" stroke-width="0.6"/>
<circle cx="370.80" cy="227.50" r="1.4" fill="#fff" stroke="#707070" stroke-width="0.6"/>
<text x="298.30" y="163.65" font-size="9.5" text-anchor="middle" font-weight="bold" fill="#1e1e1e">**</text>
<text x="322.50" y="182.25" font-size="9.5" text-anchor="middle" font-weight="bold" fill="#1e1e1e">**</text>
<text x="346.60" y="211.15" font-size="9.5" text-anchor="middle" font-weight="bold" fill="#1e1e1e">**</text>
<line x1="391.10" y1="183.00" x2="399.00" y2="183.00" stroke="#9a9a9a" stroke-width="0.8"/>
<circle cx="395.10" cy="183.00" r="1.3" fill="#fff" stroke="#9a9a9a" stroke-width="0.6"/>
<line x1="391.10" y1="195.80" x2="399.00" y2="195.80" stroke="#caa56a" stroke-width="0.8"/>
<circle cx="395.10" cy="195.80" r="1.3" fill="#fff" stroke="#caa56a" stroke-width="0.6"/>
<text x="403.80" y="186.30" font-size="7.6" text-anchor="start" fill="#1e1e1e"><tspan font-style="italic">Tbx21</tspan><tspan font-size="5.6" dy="-3.6" font-style="italic">fl/fl</tspan></text>
<text x="403.80" y="199.00" font-size="7.6" text-anchor="start" fill="#1e1e1e"><tspan font-style="italic">Tbx21</tspan><tspan font-size="5.6" dy="-3.6" font-style="italic">-/-</tspan></text>
<text x="437.00" y="147.40" font-size="12.5" text-anchor="start" font-weight="bold" fill="#1e1e1e">f</text>
<text x="527.20" y="146.10" font-size="7.15" text-anchor="middle" font-weight="bold" fill="#1e1e1e">Circulating TCR<tspan font-size="4.8" dy="1.8">2C</tspan><tspan font-size="4.8" dy="-4.3">+</tspan><tspan dy="2.5">CD8</tspan><tspan font-size="4.8" dy="-2.5">+</tspan><tspan dy="2.5"> donor cells</tspan></text>
<line x1="485.60" y1="158.90" x2="485.60" y2="228.20" stroke="#3a3a3a" stroke-width="0.9"/>
<line x1="482.70" y1="228.20" x2="485.60" y2="228.20" stroke="#3a3a3a" stroke-width="0.9"/>
<text x="481.90" y="230.94" font-size="7.6" text-anchor="end" fill="#1e1e1e">0</text>
<line x1="482.70" y1="214.34" x2="485.60" y2="214.34" stroke="#3a3a3a" stroke-width="0.9"/>
<text x="481.90" y="217.08" font-size="7.6" text-anchor="end" fill="#1e1e1e">1</text>
<line x1="482.70" y1="200.48" x2="485.60" y2="200.48" stroke="#3a3a3a" stroke-width="0.9"/>
<text x="481.90" y="203.22" font-size="7.6" text-anchor="end" fill="#1e1e1e">2</text>
<line x1="482.70" y1="186.62" x2="485.60" y2="186.62" stroke="#3a3a3a" stroke-width="0.9"/>
<text x="481.90" y="189.36" font-size="7.6" text-anchor="end" fill="#1e1e1e">3</text>
<line x1="482.70" y1="172.76" x2="485.60" y2="172.76" stroke="#3a3a3a" stroke-width="0.9"/>
<text x="481.90" y="175.50" font-size="7.6" text-anchor="end" fill="#1e1e1e">4</text>
<line x1="482.70" y1="158.90" x2="485.60" y2="158.90" stroke="#3a3a3a" stroke-width="0.9"/>
<text x="481.90" y="161.64" font-size="7.6" text-anchor="end" fill="#1e1e1e">5</text>
<line x1="485.60" y1="228.20" x2="592.50" y2="228.20" stroke="#3a3a3a" stroke-width="0.9"/>
<line x1="503.90" y1="228.20" x2="503.90" y2="230.40" stroke="#3a3a3a" stroke-width="0.9"/>
<text x="503.90" y="239.00" font-size="7.6" text-anchor="middle" fill="#1e1e1e">7</text>
<line x1="527.60" y1="228.20" x2="527.60" y2="230.40" stroke="#3a3a3a" stroke-width="0.9"/>
<text x="527.60" y="239.00" font-size="7.6" text-anchor="middle" fill="#1e1e1e">10</text>
<line x1="552.30" y1="228.20" x2="552.30" y2="230.40" stroke="#3a3a3a" stroke-width="0.9"/>
<text x="552.30" y="239.00" font-size="7.6" text-anchor="middle" fill="#1e1e1e">13</text>
<line x1="576.40" y1="228.20" x2="576.40" y2="230.40" stroke="#3a3a3a" stroke-width="0.9"/>
<text x="576.40" y="239.00" font-size="7.6" text-anchor="middle" fill="#1e1e1e">16</text>
<text x="530.80" y="250.30" font-size="7.6" text-anchor="middle" fill="#1e1e1e">Days post-tumor inoculation</text>
<text x="458.00" y="191.90" font-size="7.6" text-anchor="middle" fill="#1e1e1e" transform="rotate(-90 458.0 191.9)">SIY-reactive donor cells</text>
<text x="467.60" y="192.50" font-size="7.6" text-anchor="middle" fill="#1e1e1e" transform="rotate(-90 467.6 192.5)">(% of PBLs)</text>
<polyline points="503.90,197.80 527.60,182.30 552.30,195.00 576.40,208.00" fill="none" stroke="#707070" stroke-width="0.9"/>
<polyline points="503.90,220.70 527.60,221.80 552.30,223.80 576.40,225.30" fill="none" stroke="#caa56a" stroke-width="1.0"/>
<line x1="503.90" y1="193.30" x2="503.90" y2="202.90" stroke="#707070" stroke-width="0.7"/>
<line x1="502.10" y1="193.30" x2="505.70" y2="193.30" stroke="#707070" stroke-width="0.7"/>
<line x1="502.10" y1="202.90" x2="505.70" y2="202.90" stroke="#707070" stroke-width="0.7"/>
<line x1="527.60" y1="173.40" x2="527.60" y2="191.20" stroke="#707070" stroke-width="0.7"/>
<line x1="525.80" y1="173.40" x2="529.40" y2="173.40" stroke="#707070" stroke-width="0.7"/>
<line x1="525.80" y1="191.20" x2="529.40" y2="191.20" stroke="#707070" stroke-width="0.7"/>
<line x1="552.30" y1="188.70" x2="552.30" y2="201.40" stroke="#707070" stroke-width="0.7"/>
<line x1="550.50" y1="188.70" x2="554.10" y2="188.70" stroke="#707070" stroke-width="0.7"/>
<line x1="550.50" y1="201.40" x2="554.10" y2="201.40" stroke="#707070" stroke-width="0.7"/>
<line x1="576.40" y1="204.00" x2="576.40" y2="211.10" stroke="#707070" stroke-width="0.7"/>
<line x1="574.60" y1="204.00" x2="578.20" y2="204.00" stroke="#707070" stroke-width="0.7"/>
<line x1="574.60" y1="211.10" x2="578.20" y2="211.10" stroke="#707070" stroke-width="0.7"/>
<circle cx="503.90" cy="220.70" r="1.4" fill="#fff" stroke="#caa56a" stroke-width="0.6"/>
<circle cx="503.90" cy="197.80" r="1.4" fill="#fff" stroke="#707070" stroke-width="0.6"/>
<circle cx="527.60" cy="221.80" r="1.4" fill="#fff" stroke="#caa56a" stroke-width="0.6"/>
<circle cx="527.60" cy="182.30" r="1.4" fill="#fff" stroke="#707070" stroke-width="0.6"/>
<circle cx="552.30" cy="223.80" r="1.4" fill="#fff" stroke="#caa56a" stroke-width="0.6"/>
<circle cx="552.30" cy="195.00" r="1.4" fill="#fff" stroke="#707070" stroke-width="0.6"/>
<circle cx="576.40" cy="225.30" r="1.4" fill="#fff" stroke="#caa56a" stroke-width="0.6"/>
<circle cx="576.40" cy="208.00" r="1.4" fill="#fff" stroke="#707070" stroke-width="0.6"/>
<text x="503.90" y="189.15" font-size="9.5" text-anchor="middle" font-weight="bold" fill="#1e1e1e">**</text>
<text x="527.60" y="170.05" font-size="9.5" text-anchor="middle" font-weight="bold" fill="#1e1e1e">**</text>
<text x="552.30" y="185.25" font-size="9.5" text-anchor="middle" font-weight="bold" fill="#1e1e1e">**</text>
<text x="576.40" y="201.05" font-size="9.5" text-anchor="middle" font-weight="bold" fill="#1e1e1e">**</text>
<line x1="596.80" y1="188.20" x2="604.40" y2="188.20" stroke="#9a9a9a" stroke-width="0.8"/>
<circle cx="600.60" cy="188.20" r="1.3" fill="#fff" stroke="#9a9a9a" stroke-width="0.6"/>
<line x1="596.80" y1="200.90" x2="604.40" y2="200.90" stroke="#caa56a" stroke-width="0.8"/>
<circle cx="600.60" cy="200.90" r="1.3" fill="#fff" stroke="#caa56a" stroke-width="0.6"/>
<text x="609.50" y="191.50" font-size="7.6" text-anchor="start" fill="#1e1e1e"><tspan font-style="italic">Tbx21</tspan><tspan font-size="5.6" dy="-3.6" font-style="italic">fl/fl</tspan></text>
<text x="609.50" y="204.20" font-size="7.6" text-anchor="start" fill="#1e1e1e"><tspan font-style="italic">Tbx21</tspan><tspan font-size="5.6" dy="-3.6" font-style="italic">-/-</tspan></text>
<text x="13.80" y="294.50" font-size="12.5" text-anchor="start" font-weight="bold" fill="#1e1e1e">g</text>
<text x="122.90" y="296.30" font-size="7.0" text-anchor="middle" font-weight="bold" fill="#1e1e1e">Circulating TCR<tspan font-size="4.8" dy="1.8">2C</tspan><tspan font-size="4.8" dy="-4.3">+</tspan><tspan dy="2.5">CD8</tspan><tspan font-size="4.8" dy="-2.5">+</tspan><tspan dy="2.5"> donor cells (Day 7)</tspan></text>
<line x1="54.20" y1="307.40" x2="54.20" y2="377.40" stroke="#3a3a3a" stroke-width="0.9"/>
<line x1="51.30" y1="377.40" x2="54.20" y2="377.40" stroke="#3a3a3a" stroke-width="0.9"/>
<text x="50.50" y="380.14" font-size="7.6" text-anchor="end" fill="#1e1e1e">0.0</text>
<line x1="51.30" y1="359.90" x2="54.20" y2="359.90" stroke="#3a3a3a" stroke-width="0.9"/>
<text x="50.50" y="362.64" font-size="7.6" text-anchor="end" fill="#1e1e1e">0.5</text>
<line x1="51.30" y1="342.40" x2="54.20" y2="342.40" stroke="#3a3a3a" stroke-width="0.9"/>
<text x="50.50" y="345.14" font-size="7.6" text-anchor="end" fill="#1e1e1e">1.0</text>
<line x1="51.30" y1="324.90" x2="54.20" y2="324.90" stroke="#3a3a3a" stroke-width="0.9"/>
<text x="50.50" y="327.64" font-size="7.6" text-anchor="end" fill="#1e1e1e">1.5</text>
<line x1="51.30" y1="307.40" x2="54.20" y2="307.40" stroke="#3a3a3a" stroke-width="0.9"/>
<text x="50.50" y="310.14" font-size="7.6" text-anchor="end" fill="#1e1e1e">2.0</text>
<line x1="54.20" y1="377.40" x2="102.00" y2="377.40" stroke="#3a3a3a" stroke-width="0.9"/>
<rect x="62.30" y="342.40" width="14.60" height="35.00" fill="#5b5c5b"/>
<rect x="78.40" y="352.20" width="15.30" height="25.20" fill="#c1924c"/>
<line x1="69.60" y1="342.40" x2="69.60" y2="326.60" stroke="#bdbdbd" stroke-width="0.8"/>
<line x1="66.40" y1="326.60" x2="72.90" y2="326.60" stroke="#bdbdbd" stroke-width="0.8"/>
<line x1="86.00" y1="352.20" x2="86.00" y2="341.40" stroke="#dcc69c" stroke-width="0.8"/>
<line x1="82.80" y1="341.40" x2="89.20" y2="341.40" stroke="#dcc69c" stroke-width="0.8"/>
<circle cx="69.70" cy="320.70" r="1.0" fill="#fff" stroke="#bdbdbd" stroke-width="0.6"/>
<circle cx="65.80" cy="332.00" r="1.0" fill="#fff" stroke="#bdbdbd" stroke-width="0.6"/>
<circle cx="69.70" cy="331.60" r="1.0" fill="#fff" stroke="#bdbdbd" stroke-width="0.6"/>
<circle cx="73.60" cy="332.00" r="1.0" fill="#fff" stroke="#bdbdbd" stroke-width="0.6"/>
<circle cx="69.70" cy="336.40" r="1.0" fill="#fff" stroke="#bdbdbd" stroke-width="0.6"/>
<circle cx="69.70" cy="350.60" r="0.8" fill="#fff"/>
<circle cx="69.70" cy="356.50" r="0.8" fill="#fff"/>
<circle cx="65.50" cy="361.50" r="0.8" fill="#fff"/>
<circle cx="73.50" cy="361.50" r="0.8" fill="#fff"/>
<circle cx="69.70" cy="365.80" r="0.8" fill="#fff"/>
<circle cx="86.20" cy="337.00" r="1.0" fill="#fff" stroke="#dcc69c" stroke-width="0.6"/>
<circle cx="82.30" cy="342.50" r="1.0" fill="#fff" stroke="#dcc69c" stroke-width="0.6"/>
<circle cx="86.20" cy="342.80" r="1.0" fill="#fff" stroke="#dcc69c" stroke-width="0.6"/>
<circle cx="88.80" cy="342.50" r="1.0" fill="#fff" stroke="#dcc69c" stroke-width="0.6"/>
<circle cx="82.30" cy="345.50" r="1.0" fill="#fff" stroke="#dcc69c" stroke-width="0.6"/>
<circle cx="86.20" cy="345.80" r="1.0" fill="#fff" stroke="#dcc69c" stroke-width="0.6"/>
<circle cx="88.80" cy="345.50" r="1.0" fill="#fff" stroke="#dcc69c" stroke-width="0.6"/>
<circle cx="86.20" cy="349.50" r="1.0" fill="#fff" stroke="#dcc69c" stroke-width="0.6"/>
<circle cx="86.20" cy="357.10" r="0.8" fill="#fff"/>
<circle cx="83.40" cy="362.10" r="0.8" fill="#fff"/>
<circle cx="88.80" cy="362.10" r="0.8" fill="#fff"/>
<circle cx="86.20" cy="365.20" r="0.8" fill="#fff"/>
<circle cx="83.40" cy="368.00" r="0.8" fill="#fff"/>
<line x1="69.60" y1="377.40" x2="69.60" y2="379.60" stroke="#3a3a3a" stroke-width="0.9"/>
<line x1="86.00" y1="377.40" x2="86.00" y2="379.60" stroke="#3a3a3a" stroke-width="0.9"/>
<text x="72.00" y="386.60" font-size="7.9" text-anchor="end" font-style="italic" fill="#1e1e1e" transform="rotate(-45 72.0 386.6)">Zeb2<tspan font-size="5" dy="-3.3">fl/fl</tspan></text>
<text x="88.40" y="386.60" font-size="7.9" text-anchor="end" font-style="italic" fill="#1e1e1e" transform="rotate(-45 88.4 386.6)">Zeb2<tspan font-size="5" dy="-3.3">-/-</tspan></text>
<text x="11.40" y="354.00" font-size="7.2" text-anchor="middle" fill="#1e1e1e" transform="rotate(-90 11.4 354.0)">Relative <tspan font-style="italic">Tbx21</tspan> mRNA expression</text>
<text x="19.90" y="354.50" font-size="7.2" text-anchor="middle" fill="#1e1e1e" transform="rotate(-90 19.9 354.5)">in SIY-reactive T<tspan font-size="4.8" dy="1.6">eff</tspan><tspan dy="-1.6"> donor cells</tspan></text>
<text x="28.60" y="360.00" font-size="7.2" text-anchor="middle" fill="#1e1e1e" transform="rotate(-90 28.6 360.0)">(fold-change)</text>
<line x1="171.20" y1="307.40" x2="171.20" y2="378.30" stroke="#3a3a3a" stroke-width="0.9"/>
<line x1="168.30" y1="378.30" x2="171.20" y2="378.30" stroke="#3a3a3a" stroke-width="0.9"/>
<text x="167.50" y="381.04" font-size="7.6" text-anchor="end" fill="#1e1e1e">0.0</text>
<line x1="168.30" y1="354.67" x2="171.20" y2="354.67" stroke="#3a3a3a" stroke-width="0.9"/>
<text x="167.50" y="357.40" font-size="7.6" text-anchor="end" fill="#1e1e1e">0.5</text>
<line x1="168.30" y1="331.03" x2="171.20" y2="331.03" stroke="#3a3a3a" stroke-width="0.9"/>
<text x="167.50" y="333.77" font-size="7.6" text-anchor="end" fill="#1e1e1e">1.0</text>
<line x1="168.30" y1="307.40" x2="171.20" y2="307.40" stroke="#3a3a3a" stroke-width="0.9"/>
<text x="167.50" y="310.14" font-size="7.6" text-anchor="end" fill="#1e1e1e">1.5</text>
<line x1="171.20" y1="378.30" x2="219.80" y2="378.30" stroke="#3a3a3a" stroke-width="0.9"/>
<rect x="179.20" y="331.03" width="15.50" height="47.27" fill="#5b5c5b"/>
<rect x="196.20" y="369.80" width="15.30" height="8.50" fill="#c1924c"/>
<line x1="187.00" y1="331.03" x2="187.00" y2="322.20" stroke="#bdbdbd" stroke-width="0.8"/>
<line x1="184.20" y1="322.20" x2="189.70" y2="322.20" stroke="#bdbdbd" stroke-width="0.8"/>
<circle cx="182.50" cy="319.80" r="1.0" fill="#fff" stroke="#bdbdbd" stroke-width="0.6"/>
<circle cx="187.50" cy="320.80" r="1.0" fill="#fff" stroke="#bdbdbd" stroke-width="0.6"/>
<circle cx="191.20" cy="321.00" r="1.0" fill="#fff" stroke="#bdbdbd" stroke-width="0.6"/>
<circle cx="182.50" cy="326.50" r="1.0" fill="#fff" stroke="#bdbdbd" stroke-width="0.6"/>
<circle cx="187.50" cy="324.50" r="1.0" fill="#fff" stroke="#bdbdbd" stroke-width="0.6"/>
<circle cx="191.20" cy="326.50" r="1.0" fill="#fff" stroke="#bdbdbd" stroke-width="0.6"/>
<circle cx="182.50" cy="335.50" r="0.8" fill="#fff"/>
<circle cx="187.50" cy="335.50" r="0.8" fill="#fff"/>
<circle cx="191.20" cy="336.40" r="0.8" fill="#fff"/>
<circle cx="183.50" cy="339.70" r="0.8" fill="#fff"/>
<circle cx="188.00" cy="338.60" r="0.8" fill="#fff"/>
<circle cx="185.00" cy="342.50" r="0.8" fill="#fff"/>
<circle cx="189.50" cy="341.90" r="0.8" fill="#fff"/>
<circle cx="199.00" cy="367.50" r="0.9" fill="none" stroke="#f2e6cf" stroke-width="0.6"/>
<circle cx="202.00" cy="366.80" r="0.9" fill="none" stroke="#f2e6cf" stroke-width="0.6"/>
<circle cx="205.00" cy="367.20" r="0.9" fill="none" stroke="#f2e6cf" stroke-width="0.6"/>
<circle cx="208.00" cy="367.80" r="0.9" fill="none" stroke="#f2e6cf" stroke-width="0.6"/>
<circle cx="199.50" cy="370.50" r="0.9" fill="none" stroke="#f2e6cf" stroke-width="0.6"/>
<circle cx="203.00" cy="370.20" r="0.9" fill="none" stroke="#f2e6cf" stroke-width="0.6"/>
<circle cx="206.50" cy="370.50" r="0.9" fill="none" stroke="#f2e6cf" stroke-width="0.6"/>
<circle cx="201.00" cy="373.00" r="0.9" fill="none" stroke="#f2e6cf" stroke-width="0.6"/>
<circle cx="205.00" cy="373.20" r="0.9" fill="none" stroke="#f2e6cf" stroke-width="0.6"/>
<circle cx="209.00" cy="372.80" r="0.9" fill="none" stroke="#f2e6cf" stroke-width="0.6"/>
<line x1="187.00" y1="378.30" x2="187.00" y2="380.50" stroke="#3a3a3a" stroke-width="0.9"/>
<line x1="203.80" y1="378.30" x2="203.80" y2="380.50" stroke="#3a3a3a" stroke-width="0.9"/>
<polyline points="186.90,310.30 186.90,307.40 204.30,307.40 204.30,310.30" fill="none" stroke="#3a3a3a" stroke-width="0.9"/>
<text x="195.60" y="307.40" font-size="7" text-anchor="middle" font-weight="bold" fill="#1e1e1e">**</text>
<text x="189.00" y="387.10" font-size="7.9" text-anchor="end" font-style="italic" fill="#1e1e1e" transform="rotate(-45 189.0 387.1)">Tbx21<tspan font-size="5" dy="-3.3">fl/fl</tspan></text>
<text x="205.70" y="387.10" font-size="7.9" text-anchor="end" font-style="italic" fill="#1e1e1e" transform="rotate(-45 205.7 387.1)">Tbx21<tspan font-size="5" dy="-3.3">-/-</tspan></text>
<text x="133.50" y="355.70" font-size="7.2" text-anchor="middle" fill="#1e1e1e" transform="rotate(-90 133.5 355.7)">Relative <tspan font-style="italic">Zeb2</tspan> mRNA expression</text>
<text x="141.00" y="357.00" font-size="7.2" text-anchor="middle" fill="#1e1e1e" transform="rotate(-90 141.0 357.0)">in SIY-reactive T<tspan font-size="4.8" dy="1.6">eff</tspan><tspan dy="-1.6"> donor cells</tspan></text>
<text x="148.80" y="355.00" font-size="7.2" text-anchor="middle" fill="#1e1e1e" transform="rotate(-90 148.8 355.0)">(fold-change)</text>
<text x="233.80" y="293.90" font-size="12.5" text-anchor="start" font-weight="bold" fill="#1e1e1e">h</text>
<text x="305.60" y="313.20" font-size="7.0" text-anchor="middle" font-weight="bold" fill="#1e1e1e">Circulating TCR<tspan font-size="4.8" dy="1.8">2C</tspan><tspan font-size="4.8" dy="-4.3">+</tspan><tspan dy="2.5">CD8</tspan><tspan font-size="4.8" dy="-2.5">+</tspan><tspan dy="2.5"> donor cells (Day 7)</tspan></text>
<circle cx="281.40" cy="265.40" r="1.4" fill="#555555"/>
<text x="290.20" y="267.90" font-size="7.8" text-anchor="start" fill="#1e1e1e"><tspan font-style="italic">Tbx21</tspan><tspan font-size="5.5" dy="-3.3" font-style="italic">fl/fl</tspan><tspan dy="3.3">IP: IgG</tspan></text>
<circle cx="281.40" cy="275.90" r="1.4" fill="#c4955a"/>
<text x="290.20" y="278.40" font-size="7.8" text-anchor="start" fill="#1e1e1e"><tspan font-style="italic">Tbx21</tspan><tspan font-size="5.5" dy="-3.3" font-style="italic">fl/fl</tspan><tspan dy="3.3">IP: T-bet</tspan></text>
<circle cx="281.40" cy="286.90" r="1.4" fill="#2e8b22"/>
<text x="290.20" y="289.40" font-size="7.8" text-anchor="start" fill="#1e1e1e"><tspan font-style="italic">Tbx21</tspan><tspan font-size="5.5" dy="-3.3" font-style="italic">-/-</tspan><tspan dy="3.3">IP: IgG</tspan></text>
<circle cx="281.40" cy="298.00" r="1.4" fill="#3b8a9c"/>
<text x="290.20" y="300.50" font-size="7.8" text-anchor="start" fill="#1e1e1e"><tspan font-style="italic">Tbx21</tspan><tspan font-size="5.5" dy="-3.3" font-style="italic">-/-</tspan><tspan dy="3.3">IP: T-bet</tspan></text>
<line x1="263.90" y1="325.70" x2="263.90" y2="395.60" stroke="#3a3a3a" stroke-width="0.9"/>
<line x1="261.00" y1="395.60" x2="263.90" y2="395.60" stroke="#3a3a3a" stroke-width="0.9"/>
<text x="260.20" y="398.34" font-size="7.6" text-anchor="end" fill="#1e1e1e">0</text>
<line x1="261.00" y1="381.62" x2="263.90" y2="381.62" stroke="#3a3a3a" stroke-width="0.9"/>
<text x="260.20" y="384.36" font-size="7.6" text-anchor="end" fill="#1e1e1e">2</text>
<line x1="261.00" y1="367.64" x2="263.90" y2="367.64" stroke="#3a3a3a" stroke-width="0.9"/>
<text x="260.20" y="370.38" font-size="7.6" text-anchor="end" fill="#1e1e1e">4</text>
<line x1="261.00" y1="353.66" x2="263.90" y2="353.66" stroke="#3a3a3a" stroke-width="0.9"/>
<text x="260.20" y="356.40" font-size="7.6" text-anchor="end" fill="#1e1e1e">6</text>
<line x1="261.00" y1="339.68" x2="263.90" y2="339.68" stroke="#3a3a3a" stroke-width="0.9"/>
<text x="260.20" y="342.42" font-size="7.6" text-anchor="end" fill="#1e1e1e">8</text>
<line x1="261.00" y1="325.70" x2="263.90" y2="325.70" stroke="#3a3a3a" stroke-width="0.9"/>
<text x="260.20" y="328.44" font-size="7.6" text-anchor="end" fill="#1e1e1e">10</text>
<line x1="263.90" y1="395.60" x2="369.30" y2="395.60" stroke="#3a3a3a" stroke-width="0.9"/>
<text x="246.50" y="360.10" font-size="7.6" text-anchor="middle" fill="#1e1e1e" transform="rotate(-90 246.5 360.1)">Fold enrichment</text>
<rect x="269.30" y="390.71" width="9.60" height="4.89" fill="#5b5c5b"/>
<rect x="280.00" y="348.07" width="9.60" height="47.53" fill="#c1924c"/>
<rect x="290.70" y="390.71" width="9.60" height="4.89" fill="#2f8c25"/>
<rect x="301.40" y="391.06" width="9.60" height="4.54" fill="#3c8ea2"/>
<circle cx="270.84" cy="391.31" r="1.1" fill="#fff" stroke="#9a9a9a" stroke-width="0.55"/>
<circle cx="273.04" cy="391.31" r="1.1" fill="#fff" stroke="#9a9a9a" stroke-width="0.55"/>
<circle cx="275.16" cy="391.31" r="1.1" fill="#fff" stroke="#9a9a9a" stroke-width="0.55"/>
<circle cx="277.36" cy="391.31" r="1.1" fill="#fff" stroke="#9a9a9a" stroke-width="0.55"/>
<circle cx="270.84" cy="389.61" r="1.1" fill="#fff" stroke="#9a9a9a" stroke-width="0.55"/>
<circle cx="273.04" cy="389.61" r="1.1" fill="#fff" stroke="#9a9a9a" stroke-width="0.55"/>
<circle cx="275.16" cy="389.61" r="1.1" fill="#fff" stroke="#9a9a9a" stroke-width="0.55"/>
<circle cx="277.36" cy="389.61" r="1.1" fill="#fff" stroke="#9a9a9a" stroke-width="0.55"/>
<circle cx="271.99" cy="388.01" r="1.1" fill="#fff" stroke="#9a9a9a" stroke-width="0.55"/>
<circle cx="274.10" cy="388.01" r="1.1" fill="#fff" stroke="#9a9a9a" stroke-width="0.55"/>
<circle cx="276.21" cy="388.01" r="1.1" fill="#fff" stroke="#9a9a9a" stroke-width="0.55"/>
<circle cx="273.14" cy="386.71" r="1.1" fill="#fff" stroke="#9a9a9a" stroke-width="0.55"/>
<circle cx="275.06" cy="386.71" r="1.1" fill="#fff" stroke="#9a9a9a" stroke-width="0.55"/>
<circle cx="292.24" cy="391.31" r="1.1" fill="#fff" stroke="#5fb052" stroke-width="0.55"/>
<circle cx="294.44" cy="391.31" r="1.1" fill="#fff" stroke="#5fb052" stroke-width="0.55"/>
<circle cx="296.56" cy="391.31" r="1.1" fill="#fff" stroke="#5fb052" stroke-width="0.55"/>
<circle cx="298.76" cy="391.31" r="1.1" fill="#fff" stroke="#5fb052" stroke-width="0.55"/>
<circle cx="292.24" cy="389.61" r="1.1" fill="#fff" stroke="#5fb052" stroke-width="0.55"/>
<circle cx="294.44" cy="389.61" r="1.1" fill="#fff" stroke="#5fb052" stroke-width="0.55"/>
<circle cx="296.56" cy="389.61" r="1.1" fill="#fff" stroke="#5fb052" stroke-width="0.55"/>
<circle cx="298.76" cy="389.61" r="1.1" fill="#fff" stroke="#5fb052" stroke-width="0.55"/>
<circle cx="293.39" cy="388.01" r="1.1" fill="#fff" stroke="#5fb052" stroke-width="0.55"/>
<circle cx="295.50" cy="388.01" r="1.1" fill="#fff" stroke="#5fb052" stroke-width="0.55"/>
<circle cx="297.61" cy="388.01" r="1.1" fill="#fff" stroke="#5fb052" stroke-width="0.55"/>
<circle cx="294.54" cy="386.71" r="1.1" fill="#fff" stroke="#5fb052" stroke-width="0.55"/>
<circle cx="296.46" cy="386.71" r="1.1" fill="#fff" stroke="#5fb052" stroke-width="0.55"/>
<circle cx="302.94" cy="391.66" r="1.1" fill="#fff" stroke="#62abbd" stroke-width="0.55"/>
<circle cx="305.14" cy="391.66" r="1.1" fill="#fff" stroke="#62abbd" stroke-width="0.55"/>
<circle cx="307.26" cy="391.66" r="1.1" fill="#fff" stroke="#62abbd" stroke-width="0.55"/>
<circle cx="309.46" cy="391.66" r="1.1" fill="#fff" stroke="#62abbd" stroke-width="0.55"/>
<circle cx="302.94" cy="389.96" r="1.1" fill="#fff" stroke="#62abbd" stroke-width="0.55"/>
<circle cx="305.14" cy="389.96" r="1.1" fill="#fff" stroke="#62abbd" stroke-width="0.55"/>
<circle cx="307.26" cy="389.96" r="1.1" fill="#fff" stroke="#62abbd" stroke-width="0.55"/>
<circle cx="309.46" cy="389.96" r="1.1" fill="#fff" stroke="#62abbd" stroke-width="0.55"/>
<circle cx="304.09" cy="388.36" r="1.1" fill="#fff" stroke="#62abbd" stroke-width="0.55"/>
<circle cx="306.20" cy="388.36" r="1.1" fill="#fff" stroke="#62abbd" stroke-width="0.55"/>
<circle cx="308.31" cy="388.36" r="1.1" fill="#fff" stroke="#62abbd" stroke-width="0.55"/>
<circle cx="305.24" cy="387.06" r="1.1" fill="#fff" stroke="#62abbd" stroke-width="0.55"/>
<circle cx="307.16" cy="387.06" r="1.1" fill="#fff" stroke="#62abbd" stroke-width="0.55"/>
<line x1="284.80" y1="348.07" x2="284.80" y2="338.98" stroke="#e0cda6" stroke-width="0.7"/>
<line x1="283.40" y1="338.98" x2="286.20" y2="338.98" stroke="#e0cda6" stroke-width="0.7"/>
<circle cx="283.67" cy="345.31" r="1.05" fill="#fff" stroke="#e0cda6" stroke-width="0.55"/>
<circle cx="285.63" cy="358.48" r="0.8925" fill="#ffffff"/>
<circle cx="283.50" cy="353.82" r="0.8925" fill="#ffffff"/>
<circle cx="285.56" cy="348.98" r="0.8925" fill="#ffffff"/>
<circle cx="284.59" cy="333.68" r="1.05" fill="#fff" stroke="#e0cda6" stroke-width="0.55"/>
<circle cx="287.45" cy="333.56" r="1.05" fill="#fff" stroke="#e0cda6" stroke-width="0.55"/>
<circle cx="282.50" cy="352.98" r="0.8925" fill="#ffffff"/>
<circle cx="286.64" cy="355.12" r="0.8925" fill="#ffffff"/>
<circle cx="287.04" cy="343.75" r="1.05" fill="#fff" stroke="#e0cda6" stroke-width="0.55"/>
<circle cx="285.63" cy="334.11" r="1.05" fill="#fff" stroke="#e0cda6" stroke-width="0.55"/>
<circle cx="282.48" cy="345.41" r="1.05" fill="#fff" stroke="#e0cda6" stroke-width="0.55"/>
<circle cx="286.44" cy="358.64" r="0.8925" fill="#ffffff"/>
<circle cx="286.21" cy="341.87" r="1.05" fill="#fff" stroke="#e0cda6" stroke-width="0.55"/>
<line x1="290.15" y1="395.60" x2="290.15" y2="397.80" stroke="#3a3a3a" stroke-width="0.9"/>
<polyline points="273.20,328.70 273.20,325.70 284.60,325.70 284.60,328.70" fill="none" stroke="#3a3a3a" stroke-width="0.9"/>
<polyline points="285.30,328.70 285.30,325.70 306.70,325.70 306.70,328.70" fill="none" stroke="#3a3a3a" stroke-width="0.9"/>
<text x="279.45" y="325.60" font-size="7" text-anchor="middle" font-weight="bold" fill="#1e1e1e">**</text>
<text x="296.00" y="325.60" font-size="7" text-anchor="middle" font-weight="bold" fill="#1e1e1e">**</text>
<rect x="322.40" y="390.71" width="9.60" height="4.89" fill="#5b5c5b"/>
<rect x="333.10" y="352.96" width="9.60" height="42.64" fill="#c1924c"/>
<rect x="343.80" y="390.71" width="9.60" height="4.89" fill="#2f8c25"/>
<rect x="354.50" y="391.06" width="9.60" height="4.54" fill="#3c8ea2"/>
<circle cx="323.94" cy="391.31" r="1.1" fill="#fff" stroke="#9a9a9a" stroke-width="0.55"/>
<circle cx="326.14" cy="391.31" r="1.1" fill="#fff" stroke="#9a9a9a" stroke-width="0.55"/>
<circle cx="328.26" cy="391.31" r="1.1" fill="#fff" stroke="#9a9a9a" stroke-width="0.55"/>
<circle cx="330.46" cy="391.31" r="1.1" fill="#fff" stroke="#9a9a9a" stroke-width="0.55"/>
<circle cx="323.94" cy="389.61" r="1.1" fill="#fff" stroke="#9a9a9a" stroke-width="0.55"/>
<circle cx="326.14" cy="389.61" r="1.1" fill="#fff" stroke="#9a9a9a" stroke-width="0.55"/>
<circle cx="328.26" cy="389.61" r="1.1" fill="#fff" stroke="#9a9a9a" stroke-width="0.55"/>
<circle cx="330.46" cy="389.61" r="1.1" fill="#fff" stroke="#9a9a9a" stroke-width="0.55"/>
<circle cx="325.09" cy="388.01" r="1.1" fill="#fff" stroke="#9a9a9a" stroke-width="0.55"/>
<circle cx="327.20" cy="388.01" r="1.1" fill="#fff" stroke="#9a9a9a" stroke-width="0.55"/>
<circle cx="329.31" cy="388.01" r="1.1" fill="#fff" stroke="#9a9a9a" stroke-width="0.55"/>
<circle cx="326.24" cy="386.71" r="1.1" fill="#fff" stroke="#9a9a9a" stroke-width="0.55"/>
<circle cx="328.16" cy="386.71" r="1.1" fill="#fff" stroke="#9a9a9a" stroke-width="0.55"/>
<circle cx="345.34" cy="391.31" r="1.1" fill="#fff" stroke="#5fb052" stroke-width="0.55"/>
<circle cx="347.54" cy="391.31" r="1.1" fill="#fff" stroke="#5fb052" stroke-width="0.55"/>
<circle cx="349.66" cy="391.31" r="1.1" fill="#fff" stroke="#5fb052" stroke-width="0.55"/>
<circle cx="351.86" cy="391.31" r="1.1" fill="#fff" stroke="#5fb052" stroke-width="0.55"/>
<circle cx="345.34" cy="389.61" r="1.1" fill="#fff" stroke="#5fb052" stroke-width="0.55"/>
<circle cx="347.54" cy="389.61" r="1.1" fill="#fff" stroke="#5fb052" stroke-width="0.55"/>
<circle cx="349.66" cy="389.61" r="1.1" fill="#fff" stroke="#5fb052" stroke-width="0.55"/>
<circle cx="351.86" cy="389.61" r="1.1" fill="#fff" stroke="#5fb052" stroke-width="0.55"/>
<circle cx="346.49" cy="388.01" r="1.1" fill="#fff" stroke="#5fb052" stroke-width="0.55"/>
<circle cx="348.60" cy="388.01" r="1.1" fill="#fff" stroke="#5fb052" stroke-width="0.55"/>
<circle cx="350.71" cy="388.01" r="1.1" fill="#fff" stroke="#5fb052" stroke-width="0.55"/>
<circle cx="347.64" cy="386.71" r="1.1" fill="#fff" stroke="#5fb052" stroke-width="0.55"/>
<circle cx="349.56" cy="386.71" r="1.1" fill="#fff" stroke="#5fb052" stroke-width="0.55"/>
<circle cx="356.04" cy="391.66" r="1.1" fill="#fff" stroke="#62abbd" stroke-width="0.55"/>
<circle cx="358.24" cy="391.66" r="1.1" fill="#fff" stroke="#62abbd" stroke-width="0.55"/>
<circle cx="360.36" cy="391.66" r="1.1" fill="#fff" stroke="#62abbd" stroke-width="0.55"/>
<circle cx="362.56" cy="391.66" r="1.1" fill="#fff" stroke="#62abbd" stroke-width="0.55"/>
<circle cx="356.04" cy="389.96" r="1.1" fill="#fff" stroke="#62abbd" stroke-width="0.55"/>
<circle cx="358.24" cy="389.96" r="1.1" fill="#fff" stroke="#62abbd" stroke-width="0.55"/>
<circle cx="360.36" cy="389.96" r="1.1" fill="#fff" stroke="#62abbd" stroke-width="0.55"/>
<circle cx="362.56" cy="389.96" r="1.1" fill="#fff" stroke="#62abbd" stroke-width="0.55"/>
<circle cx="357.19" cy="388.36" r="1.1" fill="#fff" stroke="#62abbd" stroke-width="0.55"/>
<circle cx="359.30" cy="388.36" r="1.1" fill="#fff" stroke="#62abbd" stroke-width="0.55"/>
<circle cx="361.41" cy="388.36" r="1.1" fill="#fff" stroke="#62abbd" stroke-width="0.55"/>
<circle cx="358.34" cy="387.06" r="1.1" fill="#fff" stroke="#62abbd" stroke-width="0.55"/>
<circle cx="360.26" cy="387.06" r="1.1" fill="#fff" stroke="#62abbd" stroke-width="0.55"/>
<line x1="337.90" y1="352.96" x2="337.90" y2="343.87" stroke="#e0cda6" stroke-width="0.7"/>
<line x1="336.50" y1="343.87" x2="339.30" y2="343.87" stroke="#e0cda6" stroke-width="0.7"/>
<circle cx="335.82" cy="363.83" r="0.8925" fill="#ffffff"/>
<circle cx="338.89" cy="353.99" r="0.8925" fill="#ffffff"/>
<circle cx="335.82" cy="360.56" r="0.8925" fill="#ffffff"/>
<circle cx="339.28" cy="358.15" r="0.8925" fill="#ffffff"/>
<circle cx="339.19" cy="360.33" r="0.8925" fill="#ffffff"/>
<circle cx="335.95" cy="347.02" r="1.05" fill="#fff" stroke="#e0cda6" stroke-width="0.55"/>
<circle cx="337.62" cy="350.29" r="1.05" fill="#fff" stroke="#e0cda6" stroke-width="0.55"/>
<circle cx="340.57" cy="353.47" r="0.8925" fill="#ffffff"/>
<circle cx="335.32" cy="361.74" r="0.8925" fill="#ffffff"/>
<circle cx="337.38" cy="339.84" r="1.05" fill="#fff" stroke="#e0cda6" stroke-width="0.55"/>
<circle cx="336.99" cy="359.01" r="0.8925" fill="#ffffff"/>
<circle cx="340.35" cy="354.71" r="0.8925" fill="#ffffff"/>
<circle cx="336.38" cy="358.71" r="0.8925" fill="#ffffff"/>
<line x1="343.25" y1="395.60" x2="343.25" y2="397.80" stroke="#3a3a3a" stroke-width="0.9"/>
<polyline points="326.30,328.70 326.30,325.70 337.70,325.70 337.70,328.70" fill="none" stroke="#3a3a3a" stroke-width="0.9"/>
<polyline points="338.40,328.70 338.40,325.70 359.80,325.70 359.80,328.70" fill="none" stroke="#3a3a3a" stroke-width="0.9"/>
<text x="332.55" y="325.60" font-size="7" text-anchor="middle" font-weight="bold" fill="#1e1e1e">**</text>
<text x="349.10" y="325.60" font-size="7" text-anchor="middle" font-weight="bold" fill="#1e1e1e">**</text>
<text x="290.00" y="406.40" font-size="7.6" text-anchor="middle" fill="#1e1e1e">-3 kB</text>
<text x="343.00" y="406.40" font-size="7.6" text-anchor="middle" fill="#1e1e1e">TSS</text>
<text x="408.00" y="294.60" font-size="12.5" text-anchor="start" font-weight="bold" fill="#1e1e1e">i</text>
<text x="517.80" y="297.50" font-size="7.0" text-anchor="middle" font-weight="bold" fill="#1e1e1e">Circulating TCR<tspan font-size="4.8" dy="1.8">2C</tspan><tspan font-size="4.8" dy="-4.3">+</tspan><tspan dy="2.5">CD8</tspan><tspan font-size="4.8" dy="-2.5">+</tspan><tspan dy="2.5"> donor cells (Day 7)</tspan></text>
<line x1="439.80" y1="318.10" x2="439.80" y2="386.10" stroke="#3a3a3a" stroke-width="0.9"/>
<line x1="436.90" y1="386.10" x2="439.80" y2="386.10" stroke="#3a3a3a" stroke-width="0.9"/>
<text x="436.10" y="388.84" font-size="7.6" text-anchor="end" fill="#1e1e1e">0</text>
<line x1="436.90" y1="363.43" x2="439.80" y2="363.43" stroke="#3a3a3a" stroke-width="0.9"/>
<text x="436.10" y="366.17" font-size="7.6" text-anchor="end" fill="#1e1e1e">1</text>
<line x1="436.90" y1="340.77" x2="439.80" y2="340.77" stroke="#3a3a3a" stroke-width="0.9"/>
<text x="436.10" y="343.50" font-size="7.6" text-anchor="end" fill="#1e1e1e">2</text>
<line x1="436.90" y1="318.10" x2="439.80" y2="318.10" stroke="#3a3a3a" stroke-width="0.9"/>
<text x="436.10" y="320.84" font-size="7.6" text-anchor="end" fill="#1e1e1e">3</text>
<line x1="439.80" y1="386.10" x2="610.60" y2="386.10" stroke="#3a3a3a" stroke-width="0.9"/>
<text x="402.80" y="356.20" font-size="7.6" text-anchor="middle" fill="#1e1e1e" transform="rotate(-90 402.8 356.2)">Relative mRNA expression</text>
<text x="412.50" y="356.20" font-size="7.6" text-anchor="middle" fill="#1e1e1e" transform="rotate(-90 412.5 356.2)">in SIY-reactive T<tspan font-size="5" dy="1.7">eff</tspan><tspan dy="-1.7"> donor</tspan></text>
<text x="422.50" y="354.80" font-size="7.6" text-anchor="middle" fill="#1e1e1e" transform="rotate(-90 422.5 354.8)">cells (fold-change)</text>
<rect x="442.00" y="369.33" width="4.15" height="16.77" fill="#5b5c5b"/>
<rect x="446.30" y="346.89" width="4.15" height="39.21" fill="#c1924c"/>
<rect x="450.60" y="381.11" width="4.15" height="4.99" fill="#2f8c25"/>
<rect x="454.90" y="380.43" width="4.15" height="5.67" fill="#3c8ea2"/>
<line x1="444.15" y1="369.33" x2="444.15" y2="362.53" stroke="#b5b5b5" stroke-width="0.7"/>
<line x1="442.75" y1="362.53" x2="445.55" y2="362.53" stroke="#b5b5b5" stroke-width="0.7"/>
<circle cx="443.59" cy="368.01" r="0.8" fill="#fff" stroke="#b5b5b5" stroke-width="0.55"/>
<circle cx="443.53" cy="365.72" r="0.8" fill="#fff" stroke="#b5b5b5" stroke-width="0.55"/>
<circle cx="445.28" cy="368.40" r="0.8" fill="#fff" stroke="#b5b5b5" stroke-width="0.55"/>
<circle cx="443.71" cy="374.74" r="0.68" fill="#ffffff"/>
<circle cx="443.15" cy="365.09" r="0.8" fill="#fff" stroke="#b5b5b5" stroke-width="0.55"/>
<circle cx="444.93" cy="373.62" r="0.68" fill="#ffffff"/>
<circle cx="443.71" cy="360.14" r="0.8" fill="#fff" stroke="#b5b5b5" stroke-width="0.55"/>
<circle cx="445.29" cy="373.04" r="0.68" fill="#ffffff"/>
<circle cx="444.40" cy="370.76" r="0.68" fill="#ffffff"/>
<line x1="448.45" y1="346.89" x2="448.45" y2="338.95" stroke="#d6bf92" stroke-width="0.7"/>
<line x1="447.05" y1="338.95" x2="449.85" y2="338.95" stroke="#d6bf92" stroke-width="0.7"/>
<circle cx="448.55" cy="351.24" r="0.68" fill="#ffffff"/>
<circle cx="449.55" cy="341.84" r="0.8" fill="#fff" stroke="#d6bf92" stroke-width="0.55"/>
<circle cx="448.53" cy="349.14" r="0.68" fill="#ffffff"/>
<circle cx="448.57" cy="349.02" r="0.68" fill="#ffffff"/>
<circle cx="449.64" cy="338.97" r="0.8" fill="#fff" stroke="#d6bf92" stroke-width="0.55"/>
<circle cx="449.51" cy="337.09" r="0.8" fill="#fff" stroke="#d6bf92" stroke-width="0.55"/>
<circle cx="447.83" cy="355.92" r="0.68" fill="#ffffff"/>
<circle cx="448.60" cy="336.72" r="0.8" fill="#fff" stroke="#d6bf92" stroke-width="0.55"/>
<circle cx="448.74" cy="353.97" r="0.68" fill="#ffffff"/>
<circle cx="451.68" cy="381.41" r="0.85" fill="#fff" stroke="#5aab4c" stroke-width="0.5"/>
<circle cx="453.82" cy="381.41" r="0.85" fill="#fff" stroke="#5aab4c" stroke-width="0.5"/>
<circle cx="451.80" cy="379.91" r="0.85" fill="#fff" stroke="#5aab4c" stroke-width="0.5"/>
<circle cx="453.70" cy="379.91" r="0.85" fill="#fff" stroke="#5aab4c" stroke-width="0.5"/>
<circle cx="452.75" cy="378.51" r="0.85" fill="#fff" stroke="#5aab4c" stroke-width="0.5"/>
<circle cx="452.75" cy="377.81" r="0.85" fill="#fff" stroke="#5aab4c" stroke-width="0.5"/>
<circle cx="455.98" cy="380.73" r="0.85" fill="#fff" stroke="#5aa6b8" stroke-width="0.5"/>
<circle cx="458.12" cy="380.73" r="0.85" fill="#fff" stroke="#5aa6b8" stroke-width="0.5"/>
<circle cx="456.10" cy="379.23" r="0.85" fill="#fff" stroke="#5aa6b8" stroke-width="0.5"/>
<circle cx="458.00" cy="379.23" r="0.85" fill="#fff" stroke="#5aa6b8" stroke-width="0.5"/>
<circle cx="457.05" cy="377.83" r="0.85" fill="#fff" stroke="#5aa6b8" stroke-width="0.5"/>
<circle cx="457.05" cy="377.13" r="0.85" fill="#fff" stroke="#5aa6b8" stroke-width="0.5"/>
<line x1="450.60" y1="386.10" x2="450.60" y2="388.30" stroke="#3a3a3a" stroke-width="0.9"/>
<polyline points="443.10,321.40 443.10,318.10 452.90,318.10 452.90,321.40" fill="none" stroke="#6a6a6a" stroke-width="0.7"/>
<line x1="447.40" y1="323.20" x2="457.30" y2="323.20" stroke="#8a8a8a" stroke-width="0.7"/>
<text x="448.50" y="318.30" font-size="7" text-anchor="middle" font-weight="bold" fill="#1e1e1e">**</text>
<text x="452.60" y="396.20" font-size="7.6" text-anchor="end" font-style="italic" fill="#1e1e1e" transform="rotate(-45 452.6 396.2)">Ccl3</text>
<rect x="463.41" y="363.89" width="4.15" height="22.21" fill="#5b5c5b"/>
<rect x="467.71" y="340.77" width="4.15" height="45.33" fill="#c1924c"/>
<rect x="472.01" y="385.42" width="4.15" height="0.68" fill="#2f8c25"/>
<rect x="476.31" y="385.42" width="4.15" height="0.68" fill="#3c8ea2"/>
<line x1="465.56" y1="363.89" x2="465.56" y2="357.09" stroke="#b5b5b5" stroke-width="0.7"/>
<line x1="464.16" y1="357.09" x2="466.96" y2="357.09" stroke="#b5b5b5" stroke-width="0.7"/>
<circle cx="465.57" cy="366.71" r="0.68" fill="#ffffff"/>
<circle cx="466.33" cy="368.04" r="0.68" fill="#ffffff"/>
<circle cx="465.69" cy="366.91" r="0.68" fill="#ffffff"/>
<circle cx="465.31" cy="355.57" r="0.8" fill="#fff" stroke="#b5b5b5" stroke-width="0.55"/>
<circle cx="466.12" cy="354.89" r="0.8" fill="#fff" stroke="#b5b5b5" stroke-width="0.55"/>
<circle cx="465.87" cy="361.74" r="0.8" fill="#fff" stroke="#b5b5b5" stroke-width="0.55"/>
<circle cx="465.22" cy="361.12" r="0.8" fill="#fff" stroke="#b5b5b5" stroke-width="0.55"/>
<circle cx="465.33" cy="354.42" r="0.8" fill="#fff" stroke="#b5b5b5" stroke-width="0.55"/>
<circle cx="466.41" cy="354.63" r="0.8" fill="#fff" stroke="#b5b5b5" stroke-width="0.55"/>
<line x1="469.86" y1="340.77" x2="469.86" y2="332.83" stroke="#d6bf92" stroke-width="0.7"/>
<line x1="468.46" y1="332.83" x2="471.26" y2="332.83" stroke="#d6bf92" stroke-width="0.7"/>
<circle cx="469.75" cy="340.07" r="0.8" fill="#fff" stroke="#d6bf92" stroke-width="0.55"/>
<circle cx="469.58" cy="338.95" r="0.8" fill="#fff" stroke="#d6bf92" stroke-width="0.55"/>
<circle cx="469.04" cy="333.00" r="0.8" fill="#fff" stroke="#d6bf92" stroke-width="0.55"/>
<circle cx="470.49" cy="341.27" r="0.68" fill="#ffffff"/>
<circle cx="470.84" cy="337.92" r="0.8" fill="#fff" stroke="#d6bf92" stroke-width="0.55"/>
<circle cx="469.52" cy="344.75" r="0.68" fill="#ffffff"/>
<circle cx="468.97" cy="344.40" r="0.68" fill="#ffffff"/>
<circle cx="469.89" cy="349.34" r="0.68" fill="#ffffff"/>
<circle cx="470.05" cy="344.55" r="0.68" fill="#ffffff"/>
<circle cx="473.09" cy="385.72" r="0.85" fill="#fff" stroke="#5aab4c" stroke-width="0.5"/>
<circle cx="475.24" cy="385.72" r="0.85" fill="#fff" stroke="#5aab4c" stroke-width="0.5"/>
<circle cx="474.16" cy="384.52" r="0.85" fill="#fff" stroke="#5aab4c" stroke-width="0.5"/>
<circle cx="477.39" cy="385.72" r="0.85" fill="#fff" stroke="#5aa6b8" stroke-width="0.5"/>
<circle cx="479.54" cy="385.72" r="0.85" fill="#fff" stroke="#5aa6b8" stroke-width="0.5"/>
<circle cx="478.46" cy="384.52" r="0.85" fill="#fff" stroke="#5aa6b8" stroke-width="0.5"/>
<line x1="472.01" y1="386.10" x2="472.01" y2="388.30" stroke="#3a3a3a" stroke-width="0.9"/>
<polyline points="464.51,321.40 464.51,318.10 474.31,318.10 474.31,321.40" fill="none" stroke="#6a6a6a" stroke-width="0.7"/>
<line x1="468.81" y1="323.20" x2="478.71" y2="323.20" stroke="#8a8a8a" stroke-width="0.7"/>
<text x="469.91" y="318.30" font-size="7" text-anchor="middle" font-weight="bold" fill="#1e1e1e">**</text>
<text x="474.01" y="396.20" font-size="7.6" text-anchor="end" font-style="italic" fill="#1e1e1e" transform="rotate(-45 474.01000000000005 396.2)">Cx3cr1</text>
<rect x="484.82" y="363.89" width="4.15" height="22.21" fill="#5b5c5b"/>
<rect x="489.12" y="345.75" width="4.15" height="40.35" fill="#c1924c"/>
<rect x="493.42" y="381.57" width="4.15" height="4.53" fill="#2f8c25"/>
<rect x="497.72" y="381.57" width="4.15" height="4.53" fill="#3c8ea2"/>
<line x1="486.97" y1="363.89" x2="486.97" y2="357.09" stroke="#b5b5b5" stroke-width="0.7"/>
<line x1="485.57" y1="357.09" x2="488.37" y2="357.09" stroke="#b5b5b5" stroke-width="0.7"/>
<circle cx="485.90" cy="354.72" r="0.8" fill="#fff" stroke="#b5b5b5" stroke-width="0.55"/>
<circle cx="486.93" cy="358.84" r="0.8" fill="#fff" stroke="#b5b5b5" stroke-width="0.55"/>
<circle cx="486.75" cy="355.32" r="0.8" fill="#fff" stroke="#b5b5b5" stroke-width="0.55"/>
<circle cx="486.15" cy="355.68" r="0.8" fill="#fff" stroke="#b5b5b5" stroke-width="0.55"/>
<circle cx="486.76" cy="354.45" r="0.8" fill="#fff" stroke="#b5b5b5" stroke-width="0.55"/>
<circle cx="486.60" cy="367.70" r="0.68" fill="#ffffff"/>
<circle cx="485.85" cy="360.39" r="0.8" fill="#fff" stroke="#b5b5b5" stroke-width="0.55"/>
<circle cx="485.79" cy="364.37" r="0.68" fill="#ffffff"/>
<circle cx="486.18" cy="369.55" r="0.68" fill="#ffffff"/>
<line x1="491.27" y1="345.75" x2="491.27" y2="337.82" stroke="#d6bf92" stroke-width="0.7"/>
<line x1="489.87" y1="337.82" x2="492.67" y2="337.82" stroke="#d6bf92" stroke-width="0.7"/>
<circle cx="491.25" cy="352.84" r="0.68" fill="#ffffff"/>
<circle cx="492.40" cy="345.08" r="0.8" fill="#fff" stroke="#d6bf92" stroke-width="0.55"/>
<circle cx="491.97" cy="338.47" r="0.8" fill="#fff" stroke="#d6bf92" stroke-width="0.55"/>
<circle cx="490.44" cy="341.31" r="0.8" fill="#fff" stroke="#d6bf92" stroke-width="0.55"/>
<circle cx="491.11" cy="336.29" r="0.8" fill="#fff" stroke="#d6bf92" stroke-width="0.55"/>
<circle cx="490.31" cy="343.40" r="0.8" fill="#fff" stroke="#d6bf92" stroke-width="0.55"/>
<circle cx="492.09" cy="349.34" r="0.68" fill="#ffffff"/>
<circle cx="490.27" cy="353.28" r="0.68" fill="#ffffff"/>
<circle cx="490.91" cy="348.94" r="0.68" fill="#ffffff"/>
<circle cx="494.50" cy="381.87" r="0.85" fill="#fff" stroke="#5aab4c" stroke-width="0.5"/>
<circle cx="496.64" cy="381.87" r="0.85" fill="#fff" stroke="#5aab4c" stroke-width="0.5"/>
<circle cx="494.62" cy="380.37" r="0.85" fill="#fff" stroke="#5aab4c" stroke-width="0.5"/>
<circle cx="496.52" cy="380.37" r="0.85" fill="#fff" stroke="#5aab4c" stroke-width="0.5"/>
<circle cx="495.57" cy="378.97" r="0.85" fill="#fff" stroke="#5aab4c" stroke-width="0.5"/>
<circle cx="495.57" cy="378.27" r="0.85" fill="#fff" stroke="#5aab4c" stroke-width="0.5"/>
<circle cx="498.80" cy="381.87" r="0.85" fill="#fff" stroke="#5aa6b8" stroke-width="0.5"/>
<circle cx="500.94" cy="381.87" r="0.85" fill="#fff" stroke="#5aa6b8" stroke-width="0.5"/>
<circle cx="498.92" cy="380.37" r="0.85" fill="#fff" stroke="#5aa6b8" stroke-width="0.5"/>
<circle cx="500.82" cy="380.37" r="0.85" fill="#fff" stroke="#5aa6b8" stroke-width="0.5"/>
<circle cx="499.87" cy="378.97" r="0.85" fill="#fff" stroke="#5aa6b8" stroke-width="0.5"/>
<circle cx="499.87" cy="378.27" r="0.85" fill="#fff" stroke="#5aa6b8" stroke-width="0.5"/>
<line x1="493.42" y1="386.10" x2="493.42" y2="388.30" stroke="#3a3a3a" stroke-width="0.9"/>
<polyline points="485.92,321.40 485.92,318.10 495.72,318.10 495.72,321.40" fill="none" stroke="#6a6a6a" stroke-width="0.7"/>
<line x1="490.22" y1="323.20" x2="500.12" y2="323.20" stroke="#8a8a8a" stroke-width="0.7"/>
<text x="491.32" y="318.30" font-size="7" text-anchor="middle" font-weight="bold" fill="#1e1e1e">**</text>
<text x="495.42" y="396.20" font-size="7.6" text-anchor="end" font-style="italic" fill="#1e1e1e" transform="rotate(-45 495.42 396.2)">Gzma</text>
<rect x="506.23" y="363.89" width="4.15" height="22.21" fill="#5b5c5b"/>
<rect x="510.53" y="341.45" width="4.15" height="44.65" fill="#c1924c"/>
<rect x="514.83" y="385.42" width="4.15" height="0.68" fill="#2f8c25"/>
<rect x="519.13" y="385.42" width="4.15" height="0.68" fill="#3c8ea2"/>
<line x1="508.38" y1="363.89" x2="508.38" y2="357.09" stroke="#b5b5b5" stroke-width="0.7"/>
<line x1="506.98" y1="357.09" x2="509.78" y2="357.09" stroke="#b5b5b5" stroke-width="0.7"/>
<circle cx="509.32" cy="360.61" r="0.8" fill="#fff" stroke="#b5b5b5" stroke-width="0.55"/>
<circle cx="508.89" cy="363.24" r="0.8" fill="#fff" stroke="#b5b5b5" stroke-width="0.55"/>
<circle cx="508.43" cy="355.40" r="0.8" fill="#fff" stroke="#b5b5b5" stroke-width="0.55"/>
<circle cx="508.93" cy="358.71" r="0.8" fill="#fff" stroke="#b5b5b5" stroke-width="0.55"/>
<circle cx="507.26" cy="356.68" r="0.8" fill="#fff" stroke="#b5b5b5" stroke-width="0.55"/>
<circle cx="509.58" cy="367.92" r="0.68" fill="#ffffff"/>
<circle cx="507.80" cy="358.50" r="0.8" fill="#fff" stroke="#b5b5b5" stroke-width="0.55"/>
<circle cx="507.58" cy="358.57" r="0.8" fill="#fff" stroke="#b5b5b5" stroke-width="0.55"/>
<circle cx="508.24" cy="364.81" r="0.68" fill="#ffffff"/>
<line x1="512.68" y1="341.45" x2="512.68" y2="333.51" stroke="#d6bf92" stroke-width="0.7"/>
<line x1="511.28" y1="333.51" x2="514.08" y2="333.51" stroke="#d6bf92" stroke-width="0.7"/>
<circle cx="513.54" cy="340.96" r="0.68" fill="#ffffff"/>
<circle cx="512.39" cy="349.74" r="0.68" fill="#ffffff"/>
<circle cx="513.04" cy="350.59" r="0.68" fill="#ffffff"/>
<circle cx="512.22" cy="347.57" r="0.68" fill="#ffffff"/>
<circle cx="511.61" cy="334.02" r="0.8" fill="#fff" stroke="#d6bf92" stroke-width="0.55"/>
<circle cx="512.20" cy="348.34" r="0.68" fill="#ffffff"/>
<circle cx="512.62" cy="334.17" r="0.8" fill="#fff" stroke="#d6bf92" stroke-width="0.55"/>
<circle cx="513.65" cy="338.16" r="0.8" fill="#fff" stroke="#d6bf92" stroke-width="0.55"/>
<circle cx="512.55" cy="346.70" r="0.68" fill="#ffffff"/>
<circle cx="515.90" cy="385.72" r="0.85" fill="#fff" stroke="#5aab4c" stroke-width="0.5"/>
<circle cx="518.06" cy="385.72" r="0.85" fill="#fff" stroke="#5aab4c" stroke-width="0.5"/>
<circle cx="516.98" cy="384.52" r="0.85" fill="#fff" stroke="#5aab4c" stroke-width="0.5"/>
<circle cx="520.20" cy="385.72" r="0.85" fill="#fff" stroke="#5aa6b8" stroke-width="0.5"/>
<circle cx="522.36" cy="385.72" r="0.85" fill="#fff" stroke="#5aa6b8" stroke-width="0.5"/>
<circle cx="521.28" cy="384.52" r="0.85" fill="#fff" stroke="#5aa6b8" stroke-width="0.5"/>
<line x1="514.83" y1="386.10" x2="514.83" y2="388.30" stroke="#3a3a3a" stroke-width="0.9"/>
<polyline points="507.33,321.40 507.33,318.10 517.13,318.10 517.13,321.40" fill="none" stroke="#6a6a6a" stroke-width="0.7"/>
<line x1="511.63" y1="323.20" x2="521.53" y2="323.20" stroke="#8a8a8a" stroke-width="0.7"/>
<text x="512.73" y="318.30" font-size="7" text-anchor="middle" font-weight="bold" fill="#1e1e1e">**</text>
<text x="516.83" y="396.20" font-size="7.6" text-anchor="end" font-style="italic" fill="#1e1e1e" transform="rotate(-45 516.83 396.2)">Gzmb</text>
<rect x="527.64" y="363.89" width="4.15" height="22.21" fill="#5b5c5b"/>
<rect x="531.94" y="344.39" width="4.15" height="41.71" fill="#c1924c"/>
<rect x="536.24" y="381.57" width="4.15" height="4.53" fill="#2f8c25"/>
<rect x="540.54" y="381.57" width="4.15" height="4.53" fill="#3c8ea2"/>
<line x1="529.79" y1="363.89" x2="529.79" y2="357.09" stroke="#b5b5b5" stroke-width="0.7"/>
<line x1="528.39" y1="357.09" x2="531.19" y2="357.09" stroke="#b5b5b5" stroke-width="0.7"/>
<circle cx="528.92" cy="355.78" r="0.8" fill="#fff" stroke="#b5b5b5" stroke-width="0.55"/>
<circle cx="529.75" cy="361.61" r="0.8" fill="#fff" stroke="#b5b5b5" stroke-width="0.55"/>
<circle cx="529.50" cy="355.04" r="0.8" fill="#fff" stroke="#b5b5b5" stroke-width="0.55"/>
<circle cx="529.98" cy="363.40" r="0.68" fill="#ffffff"/>
<circle cx="530.78" cy="364.45" r="0.68" fill="#ffffff"/>
<circle cx="530.33" cy="356.35" r="0.8" fill="#fff" stroke="#b5b5b5" stroke-width="0.55"/>
<circle cx="530.97" cy="369.77" r="0.68" fill="#ffffff"/>
<circle cx="530.03" cy="361.73" r="0.8" fill="#fff" stroke="#b5b5b5" stroke-width="0.55"/>
<circle cx="529.83" cy="361.84" r="0.8" fill="#fff" stroke="#b5b5b5" stroke-width="0.55"/>
<line x1="534.09" y1="344.39" x2="534.09" y2="336.46" stroke="#d6bf92" stroke-width="0.7"/>
<line x1="532.69" y1="336.46" x2="535.49" y2="336.46" stroke="#d6bf92" stroke-width="0.7"/>
<circle cx="535.09" cy="338.84" r="0.8" fill="#fff" stroke="#d6bf92" stroke-width="0.55"/>
<circle cx="532.90" cy="353.79" r="0.68" fill="#ffffff"/>
<circle cx="533.65" cy="333.20" r="0.8" fill="#fff" stroke="#d6bf92" stroke-width="0.55"/>
<circle cx="534.09" cy="350.36" r="0.68" fill="#ffffff"/>
<circle cx="534.67" cy="342.72" r="0.8" fill="#fff" stroke="#d6bf92" stroke-width="0.55"/>
<circle cx="534.20" cy="341.49" r="0.8" fill="#fff" stroke="#d6bf92" stroke-width="0.55"/>
<circle cx="533.52" cy="338.31" r="0.8" fill="#fff" stroke="#d6bf92" stroke-width="0.55"/>
<circle cx="535.03" cy="344.53" r="0.68" fill="#ffffff"/>
<circle cx="534.34" cy="338.97" r="0.8" fill="#fff" stroke="#d6bf92" stroke-width="0.55"/>
<circle cx="537.31" cy="381.87" r="0.85" fill="#fff" stroke="#5aab4c" stroke-width="0.5"/>
<circle cx="539.47" cy="381.87" r="0.85" fill="#fff" stroke="#5aab4c" stroke-width="0.5"/>
<circle cx="537.44" cy="380.37" r="0.85" fill="#fff" stroke="#5aab4c" stroke-width="0.5"/>
<circle cx="539.34" cy="380.37" r="0.85" fill="#fff" stroke="#5aab4c" stroke-width="0.5"/>
<circle cx="538.39" cy="378.97" r="0.85" fill="#fff" stroke="#5aab4c" stroke-width="0.5"/>
<circle cx="538.39" cy="378.27" r="0.85" fill="#fff" stroke="#5aab4c" stroke-width="0.5"/>
<circle cx="541.61" cy="381.87" r="0.85" fill="#fff" stroke="#5aa6b8" stroke-width="0.5"/>
<circle cx="543.76" cy="381.87" r="0.85" fill="#fff" stroke="#5aa6b8" stroke-width="0.5"/>
<circle cx="541.74" cy="380.37" r="0.85" fill="#fff" stroke="#5aa6b8" stroke-width="0.5"/>
<circle cx="543.64" cy="380.37" r="0.85" fill="#fff" stroke="#5aa6b8" stroke-width="0.5"/>
<circle cx="542.69" cy="378.97" r="0.85" fill="#fff" stroke="#5aa6b8" stroke-width="0.5"/>
<circle cx="542.69" cy="378.27" r="0.85" fill="#fff" stroke="#5aa6b8" stroke-width="0.5"/>
<line x1="536.24" y1="386.10" x2="536.24" y2="388.30" stroke="#3a3a3a" stroke-width="0.9"/>
<polyline points="528.74,321.40 528.74,318.10 538.54,318.10 538.54,321.40" fill="none" stroke="#6a6a6a" stroke-width="0.7"/>
<line x1="533.04" y1="323.20" x2="542.94" y2="323.20" stroke="#8a8a8a" stroke-width="0.7"/>
<text x="534.14" y="318.30" font-size="7" text-anchor="middle" font-weight="bold" fill="#1e1e1e">**</text>
<text x="538.24" y="396.20" font-size="7.6" text-anchor="end" font-style="italic" fill="#1e1e1e" transform="rotate(-45 538.24 396.2)">Klra3</text>
<rect x="549.05" y="363.89" width="4.15" height="22.21" fill="#5b5c5b"/>
<rect x="553.35" y="349.83" width="4.15" height="36.27" fill="#c1924c"/>
<rect x="557.65" y="380.21" width="4.15" height="5.89" fill="#2f8c25"/>
<rect x="561.95" y="381.57" width="4.15" height="4.53" fill="#3c8ea2"/>
<line x1="551.20" y1="363.89" x2="551.20" y2="357.09" stroke="#b5b5b5" stroke-width="0.7"/>
<line x1="549.80" y1="357.09" x2="552.60" y2="357.09" stroke="#b5b5b5" stroke-width="0.7"/>
<circle cx="552.29" cy="369.21" r="0.68" fill="#ffffff"/>
<circle cx="551.78" cy="368.24" r="0.68" fill="#ffffff"/>
<circle cx="551.80" cy="356.96" r="0.8" fill="#fff" stroke="#b5b5b5" stroke-width="0.55"/>
<circle cx="550.84" cy="365.76" r="0.68" fill="#ffffff"/>
<circle cx="552.32" cy="358.91" r="0.8" fill="#fff" stroke="#b5b5b5" stroke-width="0.55"/>
<circle cx="551.30" cy="359.87" r="0.8" fill="#fff" stroke="#b5b5b5" stroke-width="0.55"/>
<circle cx="550.97" cy="364.36" r="0.68" fill="#ffffff"/>
<circle cx="551.03" cy="358.95" r="0.8" fill="#fff" stroke="#b5b5b5" stroke-width="0.55"/>
<circle cx="551.52" cy="361.97" r="0.8" fill="#fff" stroke="#b5b5b5" stroke-width="0.55"/>
<line x1="555.50" y1="349.83" x2="555.50" y2="341.90" stroke="#d6bf92" stroke-width="0.7"/>
<line x1="554.10" y1="341.90" x2="556.90" y2="341.90" stroke="#d6bf92" stroke-width="0.7"/>
<circle cx="555.78" cy="355.74" r="0.68" fill="#ffffff"/>
<circle cx="556.48" cy="357.73" r="0.68" fill="#ffffff"/>
<circle cx="555.41" cy="355.90" r="0.68" fill="#ffffff"/>
<circle cx="556.48" cy="343.43" r="0.8" fill="#fff" stroke="#d6bf92" stroke-width="0.55"/>
<circle cx="555.94" cy="347.50" r="0.8" fill="#fff" stroke="#d6bf92" stroke-width="0.55"/>
<circle cx="556.33" cy="348.48" r="0.8" fill="#fff" stroke="#d6bf92" stroke-width="0.55"/>
<circle cx="555.94" cy="355.20" r="0.68" fill="#ffffff"/>
<circle cx="555.42" cy="347.09" r="0.8" fill="#fff" stroke="#d6bf92" stroke-width="0.55"/>
<circle cx="554.31" cy="350.76" r="0.68" fill="#ffffff"/>
<circle cx="558.72" cy="380.51" r="0.85" fill="#fff" stroke="#5aab4c" stroke-width="0.5"/>
<circle cx="560.88" cy="380.51" r="0.85" fill="#fff" stroke="#5aab4c" stroke-width="0.5"/>
<circle cx="558.85" cy="379.01" r="0.85" fill="#fff" stroke="#5aab4c" stroke-width="0.5"/>
<circle cx="560.75" cy="379.01" r="0.85" fill="#fff" stroke="#5aab4c" stroke-width="0.5"/>
<circle cx="559.80" cy="377.61" r="0.85" fill="#fff" stroke="#5aab4c" stroke-width="0.5"/>
<circle cx="559.80" cy="376.91" r="0.85" fill="#fff" stroke="#5aab4c" stroke-width="0.5"/>
<circle cx="563.02" cy="381.87" r="0.85" fill="#fff" stroke="#5aa6b8" stroke-width="0.5"/>
<circle cx="565.17" cy="381.87" r="0.85" fill="#fff" stroke="#5aa6b8" stroke-width="0.5"/>
<circle cx="563.15" cy="380.37" r="0.85" fill="#fff" stroke="#5aa6b8" stroke-width="0.5"/>
<circle cx="565.05" cy="380.37" r="0.85" fill="#fff" stroke="#5aa6b8" stroke-width="0.5"/>
<circle cx="564.10" cy="378.97" r="0.85" fill="#fff" stroke="#5aa6b8" stroke-width="0.5"/>
<circle cx="564.10" cy="378.27" r="0.85" fill="#fff" stroke="#5aa6b8" stroke-width="0.5"/>
<line x1="557.65" y1="386.10" x2="557.65" y2="388.30" stroke="#3a3a3a" stroke-width="0.9"/>
<polyline points="550.15,321.40 550.15,318.10 559.95,318.10 559.95,321.40" fill="none" stroke="#6a6a6a" stroke-width="0.7"/>
<line x1="554.45" y1="323.20" x2="564.35" y2="323.20" stroke="#8a8a8a" stroke-width="0.7"/>
<text x="555.55" y="318.30" font-size="7" text-anchor="middle" font-weight="bold" fill="#1e1e1e">**</text>
<text x="559.65" y="396.20" font-size="7.6" text-anchor="end" font-style="italic" fill="#1e1e1e" transform="rotate(-45 559.65 396.2)">Klrg1</text>
<rect x="570.46" y="363.43" width="4.15" height="22.67" fill="#5b5c5b"/>
<rect x="574.76" y="346.43" width="4.15" height="39.67" fill="#c1924c"/>
<rect x="579.06" y="381.34" width="4.15" height="4.76" fill="#2f8c25"/>
<rect x="583.36" y="381.57" width="4.15" height="4.53" fill="#3c8ea2"/>
<line x1="572.61" y1="363.43" x2="572.61" y2="356.63" stroke="#b5b5b5" stroke-width="0.7"/>
<line x1="571.21" y1="356.63" x2="574.01" y2="356.63" stroke="#b5b5b5" stroke-width="0.7"/>
<circle cx="572.75" cy="354.47" r="0.8" fill="#fff" stroke="#b5b5b5" stroke-width="0.55"/>
<circle cx="572.67" cy="362.50" r="0.8" fill="#fff" stroke="#b5b5b5" stroke-width="0.55"/>
<circle cx="573.79" cy="357.71" r="0.8" fill="#fff" stroke="#b5b5b5" stroke-width="0.55"/>
<circle cx="571.96" cy="363.37" r="0.68" fill="#ffffff"/>
<circle cx="571.57" cy="364.12" r="0.68" fill="#ffffff"/>
<circle cx="573.80" cy="359.74" r="0.8" fill="#fff" stroke="#b5b5b5" stroke-width="0.55"/>
<circle cx="573.23" cy="366.85" r="0.68" fill="#ffffff"/>
<circle cx="573.64" cy="366.79" r="0.68" fill="#ffffff"/>
<circle cx="572.33" cy="361.14" r="0.8" fill="#fff" stroke="#b5b5b5" stroke-width="0.55"/>
<line x1="576.91" y1="346.43" x2="576.91" y2="338.50" stroke="#d6bf92" stroke-width="0.7"/>
<line x1="575.51" y1="338.50" x2="578.31" y2="338.50" stroke="#d6bf92" stroke-width="0.7"/>
<circle cx="575.78" cy="339.59" r="0.8" fill="#fff" stroke="#d6bf92" stroke-width="0.55"/>
<circle cx="576.47" cy="338.59" r="0.8" fill="#fff" stroke="#d6bf92" stroke-width="0.55"/>
<circle cx="575.87" cy="356.37" r="0.68" fill="#ffffff"/>
<circle cx="577.23" cy="345.82" r="0.8" fill="#fff" stroke="#d6bf92" stroke-width="0.55"/>
<circle cx="577.67" cy="338.95" r="0.8" fill="#fff" stroke="#d6bf92" stroke-width="0.55"/>
<circle cx="577.79" cy="354.42" r="0.68" fill="#ffffff"/>
<circle cx="577.68" cy="354.57" r="0.68" fill="#ffffff"/>
<circle cx="577.10" cy="346.72" r="0.68" fill="#ffffff"/>
<circle cx="576.21" cy="340.28" r="0.8" fill="#fff" stroke="#d6bf92" stroke-width="0.55"/>
<circle cx="580.13" cy="381.64" r="0.85" fill="#fff" stroke="#5aab4c" stroke-width="0.5"/>
<circle cx="582.29" cy="381.64" r="0.85" fill="#fff" stroke="#5aab4c" stroke-width="0.5"/>
<circle cx="580.26" cy="380.14" r="0.85" fill="#fff" stroke="#5aab4c" stroke-width="0.5"/>
<circle cx="582.16" cy="380.14" r="0.85" fill="#fff" stroke="#5aab4c" stroke-width="0.5"/>
<circle cx="581.21" cy="378.74" r="0.85" fill="#fff" stroke="#5aab4c" stroke-width="0.5"/>
<circle cx="581.21" cy="378.04" r="0.85" fill="#fff" stroke="#5aab4c" stroke-width="0.5"/>
<circle cx="584.43" cy="381.87" r="0.85" fill="#fff" stroke="#5aa6b8" stroke-width="0.5"/>
<circle cx="586.59" cy="381.87" r="0.85" fill="#fff" stroke="#5aa6b8" stroke-width="0.5"/>
<circle cx="584.56" cy="380.37" r="0.85" fill="#fff" stroke="#5aa6b8" stroke-width="0.5"/>
<circle cx="586.46" cy="380.37" r="0.85" fill="#fff" stroke="#5aa6b8" stroke-width="0.5"/>
<circle cx="585.51" cy="378.97" r="0.85" fill="#fff" stroke="#5aa6b8" stroke-width="0.5"/>
<circle cx="585.51" cy="378.27" r="0.85" fill="#fff" stroke="#5aa6b8" stroke-width="0.5"/>
<line x1="579.06" y1="386.10" x2="579.06" y2="388.30" stroke="#3a3a3a" stroke-width="0.9"/>
<polyline points="571.56,321.40 571.56,318.10 581.36,318.10 581.36,321.40" fill="none" stroke="#6a6a6a" stroke-width="0.7"/>
<line x1="575.86" y1="323.20" x2="585.76" y2="323.20" stroke="#8a8a8a" stroke-width="0.7"/>
<text x="576.96" y="318.30" font-size="7" text-anchor="middle" font-weight="bold" fill="#1e1e1e">**</text>
<text x="581.06" y="396.20" font-size="7.6" text-anchor="end" font-style="italic" fill="#1e1e1e" transform="rotate(-45 581.0600000000001 396.2)">Prdm1</text>
<rect x="591.87" y="363.43" width="4.15" height="22.67" fill="#5b5c5b"/>
<rect x="596.17" y="340.99" width="4.15" height="45.11" fill="#c1924c"/>
<rect x="600.47" y="385.42" width="4.15" height="0.68" fill="#2f8c25"/>
<rect x="604.77" y="385.42" width="4.15" height="0.68" fill="#3c8ea2"/>
<line x1="594.02" y1="363.43" x2="594.02" y2="356.63" stroke="#b5b5b5" stroke-width="0.7"/>
<line x1="592.62" y1="356.63" x2="595.42" y2="356.63" stroke="#b5b5b5" stroke-width="0.7"/>
<circle cx="594.24" cy="369.54" r="0.68" fill="#ffffff"/>
<circle cx="594.05" cy="369.92" r="0.68" fill="#ffffff"/>
<circle cx="593.51" cy="354.29" r="0.8" fill="#fff" stroke="#b5b5b5" stroke-width="0.55"/>
<circle cx="594.35" cy="354.33" r="0.8" fill="#fff" stroke="#b5b5b5" stroke-width="0.55"/>
<circle cx="592.86" cy="355.81" r="0.8" fill="#fff" stroke="#b5b5b5" stroke-width="0.55"/>
<circle cx="594.06" cy="358.23" r="0.8" fill="#fff" stroke="#b5b5b5" stroke-width="0.55"/>
<circle cx="593.73" cy="360.37" r="0.8" fill="#fff" stroke="#b5b5b5" stroke-width="0.55"/>
<circle cx="594.39" cy="354.29" r="0.8" fill="#fff" stroke="#b5b5b5" stroke-width="0.55"/>
<circle cx="594.46" cy="358.39" r="0.8" fill="#fff" stroke="#b5b5b5" stroke-width="0.55"/>
<line x1="598.32" y1="340.99" x2="598.32" y2="333.06" stroke="#d6bf92" stroke-width="0.7"/>
<line x1="596.92" y1="333.06" x2="599.72" y2="333.06" stroke="#d6bf92" stroke-width="0.7"/>
<circle cx="597.57" cy="348.05" r="0.68" fill="#ffffff"/>
<circle cx="598.42" cy="333.12" r="0.8" fill="#fff" stroke="#d6bf92" stroke-width="0.55"/>
<circle cx="597.92" cy="345.15" r="0.68" fill="#ffffff"/>
<circle cx="597.91" cy="339.49" r="0.8" fill="#fff" stroke="#d6bf92" stroke-width="0.55"/>
<circle cx="597.41" cy="335.91" r="0.8" fill="#fff" stroke="#d6bf92" stroke-width="0.55"/>
<circle cx="597.78" cy="343.36" r="0.68" fill="#ffffff"/>
<circle cx="599.13" cy="334.94" r="0.8" fill="#fff" stroke="#d6bf92" stroke-width="0.55"/>
<circle cx="599.27" cy="340.13" r="0.8" fill="#fff" stroke="#d6bf92" stroke-width="0.55"/>
<circle cx="598.74" cy="349.69" r="0.68" fill="#ffffff"/>
<circle cx="601.54" cy="385.72" r="0.85" fill="#fff" stroke="#5aab4c" stroke-width="0.5"/>
<circle cx="603.70" cy="385.72" r="0.85" fill="#fff" stroke="#5aab4c" stroke-width="0.5"/>
<circle cx="602.62" cy="384.52" r="0.85" fill="#fff" stroke="#5aab4c" stroke-width="0.5"/>
<circle cx="605.84" cy="385.72" r="0.85" fill="#fff" stroke="#5aa6b8" stroke-width="0.5"/>
<circle cx="608.00" cy="385.72" r="0.85" fill="#fff" stroke="#5aa6b8" stroke-width="0.5"/>
<circle cx="606.92" cy="384.52" r="0.85" fill="#fff" stroke="#5aa6b8" stroke-width="0.5"/>
<line x1="600.47" y1="386.10" x2="600.47" y2="388.30" stroke="#3a3a3a" stroke-width="0.9"/>
<polyline points="592.97,321.40 592.97,318.10 602.77,318.10 602.77,321.40" fill="none" stroke="#6a6a6a" stroke-width="0.7"/>
<line x1="597.27" y1="323.20" x2="607.17" y2="323.20" stroke="#8a8a8a" stroke-width="0.7"/>
<text x="598.37" y="318.30" font-size="7" text-anchor="middle" font-weight="bold" fill="#1e1e1e">**</text>
<text x="602.47" y="396.20" font-size="7.6" text-anchor="end" font-style="italic" fill="#1e1e1e" transform="rotate(-45 602.47 396.2)">S1pr5</text>
<circle cx="615.40" cy="334.70" r="1.5" fill="#555555"/>
<text x="623.00" y="337.50" font-size="7.8" text-anchor="start" fill="#1e1e1e"><tspan font-style="italic">Zeb2</tspan><tspan font-size="5.8" dy="-3.3" font-style="italic">fl/fl</tspan><tspan dy="3.3">+Ctrl</tspan></text>
<circle cx="615.40" cy="345.30" r="1.5" fill="#c4955a"/>
<text x="623.00" y="348.10" font-size="7.8" text-anchor="start" fill="#1e1e1e"><tspan font-style="italic">Zeb2</tspan><tspan font-size="5.8" dy="-3.3" font-style="italic">fl/fl</tspan><tspan dy="3.3">+T-bet-OE</tspan></text>
<circle cx="615.40" cy="356.20" r="1.5" fill="#2e8b22"/>
<text x="623.00" y="359.00" font-size="7.8" text-anchor="start" fill="#1e1e1e"><tspan font-style="italic">Zeb2</tspan><tspan font-size="5.8" dy="-3.3" font-style="italic">-/-</tspan><tspan dy="3.3">+Ctrl</tspan></text>
<circle cx="615.40" cy="366.70" r="1.5" fill="#3b8a9c"/>
<text x="623.00" y="369.50" font-size="7.8" text-anchor="start" fill="#1e1e1e"><tspan font-style="italic">Zeb2</tspan><tspan font-size="5.8" dy="-3.3" font-style="italic">-/-</tspan><tspan dy="3.3">+T-bet-OE</tspan></text>
</svg>
</body></html>
